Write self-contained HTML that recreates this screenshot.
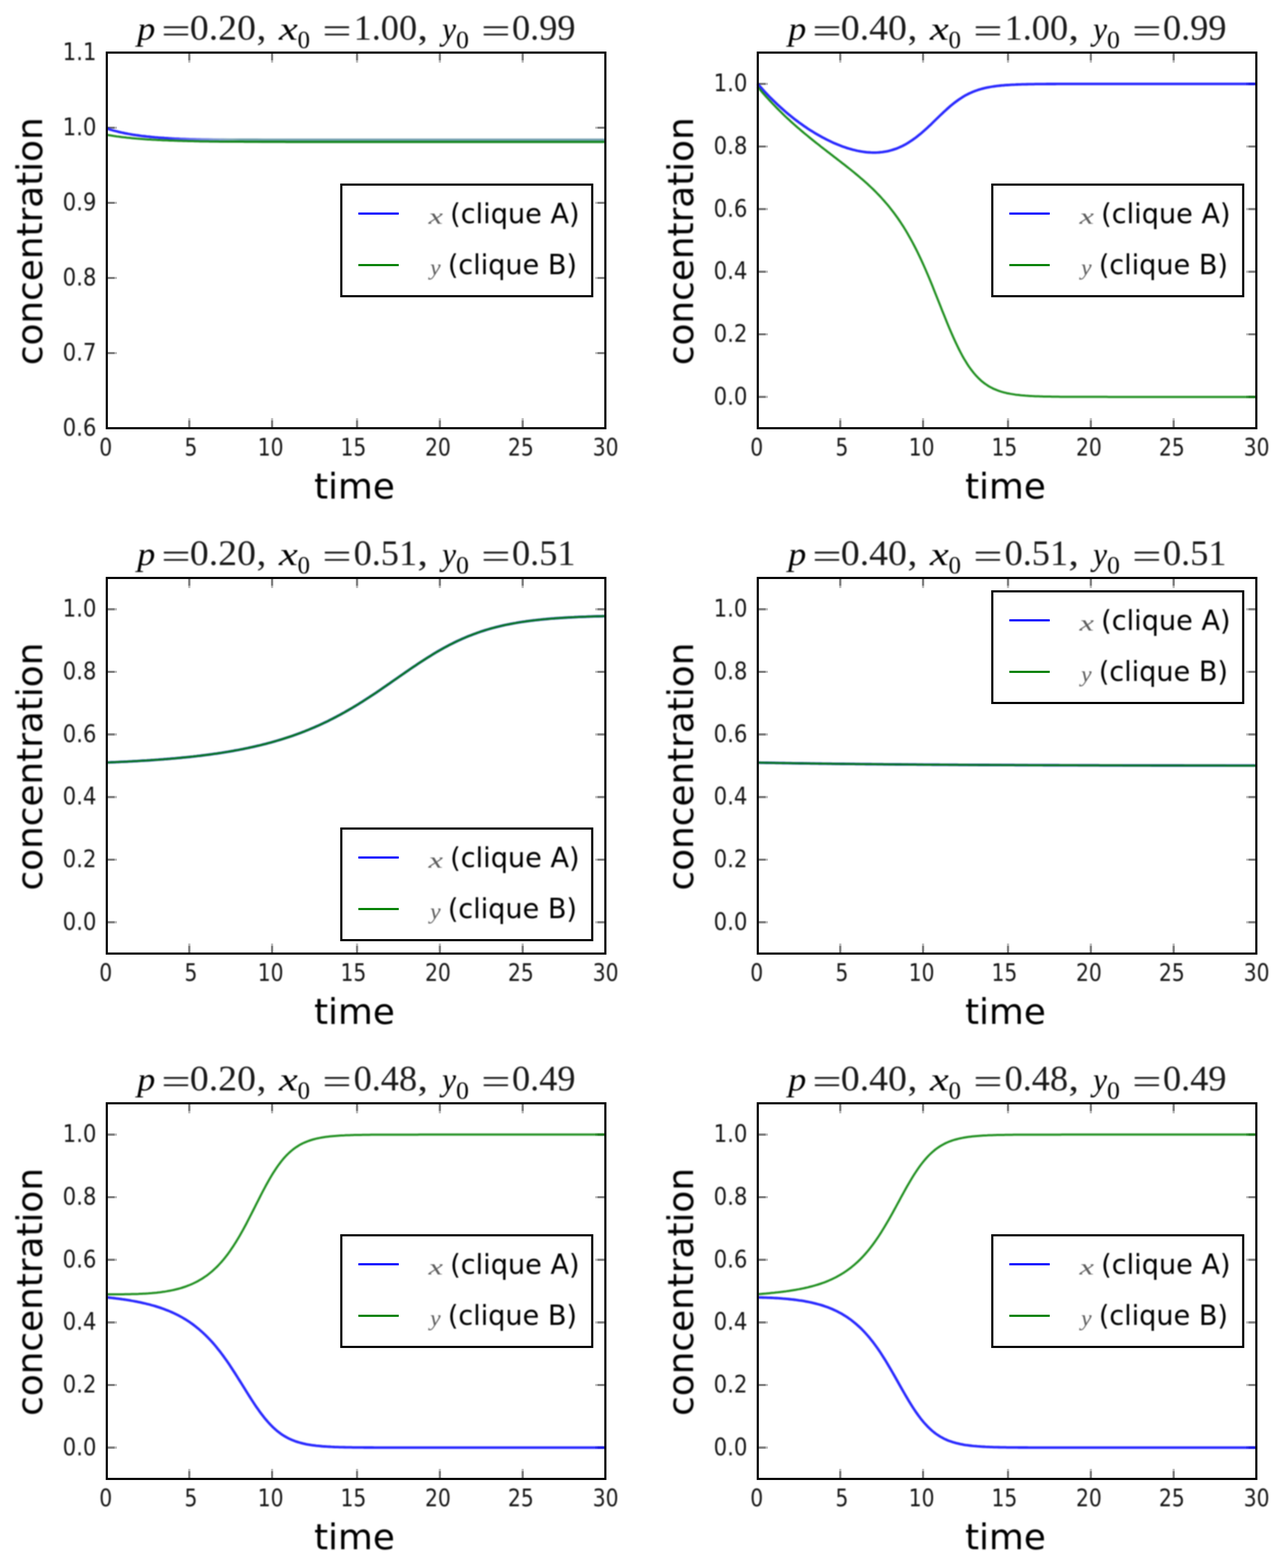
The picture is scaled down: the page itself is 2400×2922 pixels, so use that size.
<!DOCTYPE html>
<html lang="en">
<head>
<meta charset="utf-8">
<title>Clique concentration dynamics</title>
<style>
html,body{margin:0;padding:0;background:#fff;}
body{width:2400px;height:2922px;overflow:hidden;}
svg{display:block;}
text{fill:#000;}
.tk{fill:#161616;}
.tk{font-family:"DejaVu Sans", "Liberation Sans", sans-serif;font-size:44px;}
.lg{font-family:"DejaVu Sans", "Liberation Sans", sans-serif;font-size:51px;}
.lb{font-family:"DejaVu Sans", "Liberation Sans", sans-serif;font-size:66.7px;}
.tt{font-family:"Liberation Serif", "DejaVu Serif", serif;font-size:66.7px;fill:#1a1a1a;}
.ts{font-family:"Liberation Serif", "DejaVu Serif", serif;font-size:47px;}
.ti{font-family:"Liberation Serif", "DejaVu Serif", serif;font-size:61.5px;}
.lm{font-family:"Liberation Serif", "DejaVu Serif", serif;font-size:40px;fill:#5c5c5c;}
.mi{font-style:italic;}
.sp{fill:none;stroke:#000;stroke-width:4;}
.tm{stroke:#808080;stroke-width:4.2;fill:none;}
.tn{stroke:#bcbcbc;stroke-width:4.2;fill:none;}
.cx{fill:none;stroke:#0000ff;stroke-width:4.8;stroke-opacity:0.84;stroke-linejoin:round;}
.cy{fill:none;stroke:#008000;stroke-width:4.0;stroke-opacity:0.88;stroke-linejoin:round;}
.lbx{fill:#fff;stroke:#000;stroke-width:4;}
</style>
</head>
<body>
<svg width="2400" height="2922" viewBox="0 0 2400 2922">
<defs><filter id="soft" filterUnits="userSpaceOnUse" x="0" y="0" width="2400" height="2922" color-interpolation-filters="sRGB"><feGaussianBlur stdDeviation="1.1"/></filter></defs>
<rect x="0" y="0" width="2400" height="2922" fill="#ffffff"/>
<defs><linearGradient id="gb" gradientUnits="userSpaceOnUse" x1="310.5" y1="0" x2="434.3" y2="0"><stop offset="0" stop-color="#0000ff" stop-opacity="0.84"/><stop offset="1" stop-color="#0000ff" stop-opacity="0"/></linearGradient><linearGradient id="gm" gradientUnits="userSpaceOnUse" x1="322.9" y1="0" x2="446.7" y2="0"><stop offset="0" stop-color="#74a0b0" stop-opacity="0"/><stop offset="1" stop-color="#74a0b0" stop-opacity="1"/></linearGradient></defs>
<g>
<path class="tm" d="M352.7 798.0V783.2M352.7 98.0V112.8M507.0 798.0V783.2M507.0 98.0V112.8M665.3 798.0V783.2M665.3 98.0V112.8M819.6 798.0V783.2M819.6 98.0V112.8M973.9 798.0V783.2M973.9 98.0V112.8M199.0 658.0H213.8M1128.0 658.0H1113.2M199.0 518.0H213.8M1128.0 518.0H1113.2M199.0 378.0H213.8M1128.0 378.0H1113.2M199.0 238.0H213.8M1128.0 238.0H1113.2"/>
<path class="tn" d="M352.7 783.2V779.2M352.7 112.8V116.8M507.0 783.2V779.2M507.0 112.8V116.8M665.3 783.2V779.2M665.3 112.8V116.8M819.6 783.2V779.2M819.6 112.8V116.8M973.9 783.2V779.2M973.9 112.8V116.8M213.8 658.0H217.8M1113.2 658.0H1109.2M213.8 518.0H217.8M1113.2 518.0H1109.2M213.8 378.0H217.8M1113.2 378.0H1109.2M213.8 238.0H217.8M1113.2 238.0H1109.2"/>
<path class="tm" d="M1565.7 798.0V783.2M1565.7 98.0V112.8M1720.0 798.0V783.2M1720.0 98.0V112.8M1878.3 798.0V783.2M1878.3 98.0V112.8M2032.6 798.0V783.2M2032.6 98.0V112.8M2186.9 798.0V783.2M2186.9 98.0V112.8M1412.0 739.7H1426.8M2341.0 739.7H2326.2M1412.0 623.0H1426.8M2341.0 623.0H2326.2M1412.0 506.3H1426.8M2341.0 506.3H2326.2M1412.0 389.7H1426.8M2341.0 389.7H2326.2M1412.0 273.0H1426.8M2341.0 273.0H2326.2M1412.0 156.3H1426.8M2341.0 156.3H2326.2"/>
<path class="tn" d="M1565.7 783.2V779.2M1565.7 112.8V116.8M1720.0 783.2V779.2M1720.0 112.8V116.8M1878.3 783.2V779.2M1878.3 112.8V116.8M2032.6 783.2V779.2M2032.6 112.8V116.8M2186.9 783.2V779.2M2186.9 112.8V116.8M1426.8 739.7H1430.8M2326.2 739.7H2322.2M1426.8 623.0H1430.8M2326.2 623.0H2322.2M1426.8 506.3H1430.8M2326.2 506.3H2322.2M1426.8 389.7H1430.8M2326.2 389.7H2322.2M1426.8 273.0H1430.8M2326.2 273.0H2322.2M1426.8 156.3H1430.8M2326.2 156.3H2322.2"/>
<path class="tm" d="M352.7 1777.0V1762.2M352.7 1077.0V1091.8M507.0 1777.0V1762.2M507.0 1077.0V1091.8M665.3 1777.0V1762.2M665.3 1077.0V1091.8M819.6 1777.0V1762.2M819.6 1077.0V1091.8M973.9 1777.0V1762.2M973.9 1077.0V1091.8M199.0 1718.7H213.8M1128.0 1718.7H1113.2M199.0 1602.0H213.8M1128.0 1602.0H1113.2M199.0 1485.3H213.8M1128.0 1485.3H1113.2M199.0 1368.7H213.8M1128.0 1368.7H1113.2M199.0 1252.0H213.8M1128.0 1252.0H1113.2M199.0 1135.3H213.8M1128.0 1135.3H1113.2"/>
<path class="tn" d="M352.7 1762.2V1758.2M352.7 1091.8V1095.8M507.0 1762.2V1758.2M507.0 1091.8V1095.8M665.3 1762.2V1758.2M665.3 1091.8V1095.8M819.6 1762.2V1758.2M819.6 1091.8V1095.8M973.9 1762.2V1758.2M973.9 1091.8V1095.8M213.8 1718.7H217.8M1113.2 1718.7H1109.2M213.8 1602.0H217.8M1113.2 1602.0H1109.2M213.8 1485.3H217.8M1113.2 1485.3H1109.2M213.8 1368.7H217.8M1113.2 1368.7H1109.2M213.8 1252.0H217.8M1113.2 1252.0H1109.2M213.8 1135.3H217.8M1113.2 1135.3H1109.2"/>
<path class="tm" d="M1565.7 1777.0V1762.2M1565.7 1077.0V1091.8M1720.0 1777.0V1762.2M1720.0 1077.0V1091.8M1878.3 1777.0V1762.2M1878.3 1077.0V1091.8M2032.6 1777.0V1762.2M2032.6 1077.0V1091.8M2186.9 1777.0V1762.2M2186.9 1077.0V1091.8M1412.0 1718.7H1426.8M2341.0 1718.7H2326.2M1412.0 1602.0H1426.8M2341.0 1602.0H2326.2M1412.0 1485.3H1426.8M2341.0 1485.3H2326.2M1412.0 1368.7H1426.8M2341.0 1368.7H2326.2M1412.0 1252.0H1426.8M2341.0 1252.0H2326.2M1412.0 1135.3H1426.8M2341.0 1135.3H2326.2"/>
<path class="tn" d="M1565.7 1762.2V1758.2M1565.7 1091.8V1095.8M1720.0 1762.2V1758.2M1720.0 1091.8V1095.8M1878.3 1762.2V1758.2M1878.3 1091.8V1095.8M2032.6 1762.2V1758.2M2032.6 1091.8V1095.8M2186.9 1762.2V1758.2M2186.9 1091.8V1095.8M1426.8 1718.7H1430.8M2326.2 1718.7H2322.2M1426.8 1602.0H1430.8M2326.2 1602.0H2322.2M1426.8 1485.3H1430.8M2326.2 1485.3H2322.2M1426.8 1368.7H1430.8M2326.2 1368.7H2322.2M1426.8 1252.0H1430.8M2326.2 1252.0H2322.2M1426.8 1135.3H1430.8M2326.2 1135.3H2322.2"/>
<path class="tm" d="M352.7 2756.0V2741.2M352.7 2056.0V2070.8M507.0 2756.0V2741.2M507.0 2056.0V2070.8M665.3 2756.0V2741.2M665.3 2056.0V2070.8M819.6 2756.0V2741.2M819.6 2056.0V2070.8M973.9 2756.0V2741.2M973.9 2056.0V2070.8M199.0 2697.7H213.8M1128.0 2697.7H1113.2M199.0 2581.0H213.8M1128.0 2581.0H1113.2M199.0 2464.3H213.8M1128.0 2464.3H1113.2M199.0 2347.7H213.8M1128.0 2347.7H1113.2M199.0 2231.0H213.8M1128.0 2231.0H1113.2M199.0 2114.3H213.8M1128.0 2114.3H1113.2"/>
<path class="tn" d="M352.7 2741.2V2737.2M352.7 2070.8V2074.8M507.0 2741.2V2737.2M507.0 2070.8V2074.8M665.3 2741.2V2737.2M665.3 2070.8V2074.8M819.6 2741.2V2737.2M819.6 2070.8V2074.8M973.9 2741.2V2737.2M973.9 2070.8V2074.8M213.8 2697.7H217.8M1113.2 2697.7H1109.2M213.8 2581.0H217.8M1113.2 2581.0H1109.2M213.8 2464.3H217.8M1113.2 2464.3H1109.2M213.8 2347.7H217.8M1113.2 2347.7H1109.2M213.8 2231.0H217.8M1113.2 2231.0H1109.2M213.8 2114.3H217.8M1113.2 2114.3H1109.2"/>
<path class="tm" d="M1565.7 2756.0V2741.2M1565.7 2056.0V2070.8M1720.0 2756.0V2741.2M1720.0 2056.0V2070.8M1878.3 2756.0V2741.2M1878.3 2056.0V2070.8M2032.6 2756.0V2741.2M2032.6 2056.0V2070.8M2186.9 2756.0V2741.2M2186.9 2056.0V2070.8M1412.0 2697.7H1426.8M2341.0 2697.7H2326.2M1412.0 2581.0H1426.8M2341.0 2581.0H2326.2M1412.0 2464.3H1426.8M2341.0 2464.3H2326.2M1412.0 2347.7H1426.8M2341.0 2347.7H2326.2M1412.0 2231.0H1426.8M2341.0 2231.0H2326.2M1412.0 2114.3H1426.8M2341.0 2114.3H2326.2"/>
<path class="tn" d="M1565.7 2741.2V2737.2M1565.7 2070.8V2074.8M1720.0 2741.2V2737.2M1720.0 2070.8V2074.8M1878.3 2741.2V2737.2M1878.3 2070.8V2074.8M2032.6 2741.2V2737.2M2032.6 2070.8V2074.8M2186.9 2741.2V2737.2M2186.9 2070.8V2074.8M1426.8 2697.7H1430.8M2326.2 2697.7H2322.2M1426.8 2581.0H1430.8M2326.2 2581.0H2322.2M1426.8 2464.3H1430.8M2326.2 2464.3H2322.2M1426.8 2347.7H1430.8M2326.2 2347.7H2322.2M1426.8 2231.0H1430.8M2326.2 2231.0H2322.2M1426.8 2114.3H1430.8M2326.2 2114.3H2322.2"/>
</g>
<g filter="url(#soft)">
<polyline points="291.9,259.1 304.3,259.6 316.7,260.1 329.1,260.4 341.4,260.7 353.8,261.0 366.2,261.2 378.6,261.4 391.0,261.6 403.4,261.7 415.8,261.8 428.2,261.9 440.5,262.0 452.9,262.0 465.3,262.1 477.7,262.1 490.1,262.2 502.5,262.2 514.9,262.2 527.2,262.2 539.6,262.3 552.0,262.3 564.4,262.3 576.8,262.3 589.2,262.3 601.6,262.3 614.0,262.3 626.3,262.3 638.7,262.3 651.1,262.3 663.5,262.3 675.9,262.3 688.3,262.3 700.7,262.3 713.0,262.3 725.4,262.3 737.8,262.3 750.2,262.3 762.6,262.3 775.0,262.3 787.4,262.3 799.8,262.3 812.1,262.3 824.5,262.3 836.9,262.3 849.3,262.3 861.7,262.3 874.1,262.3 886.5,262.3 898.8,262.3 911.2,262.3 923.6,262.3 936.0,262.3 948.4,262.3 960.8,262.3 973.2,262.3 985.6,262.3 997.9,262.3 1010.3,262.3 1022.7,262.3 1035.1,262.3 1047.5,262.3 1059.9,262.3 1072.3,262.3 1084.6,262.3 1097.0,262.3 1109.4,262.3 1121.8,262.3 1128.0,262.3" fill="none" stroke="url(#gm)" stroke-width="8"/>
<polyline class="cx" style="stroke:url(#gb);stroke-opacity:1" points="199.0,239.4 202.1,240.4 205.2,241.4 208.3,242.3 211.4,243.2 214.5,244.0 217.6,244.8 220.7,245.6 223.8,246.3 226.9,247.0 230.0,247.6 233.1,248.3 236.2,248.9 239.3,249.5 242.4,250.0 245.4,250.6 248.5,251.1 251.6,251.5 254.7,252.0 257.8,252.4 260.9,252.9 264.0,253.3 267.1,253.6 270.2,254.0 273.3,254.4 276.4,254.7 279.5,255.0 282.6,255.3 285.7,255.6 288.8,255.9 291.9,256.1 295.0,256.4 298.1,256.6 301.2,256.8 304.3,257.0 307.4,257.3 310.5,257.4 313.6,257.6 316.7,257.8 319.8,258.0 322.9,258.1 326.0,258.3 329.1,258.4 332.2,258.5 335.3,258.7 338.4,258.8 341.4,258.9 344.5,259.0 347.6,259.1 350.7,259.2 353.8,259.3 356.9,259.4 360.0,259.4 363.1,259.5 366.2,259.6 369.3,259.7 372.4,259.7 375.5,259.8 378.6,259.8 381.7,259.9 384.8,259.9 387.9,260.0 391.0,260.1 394.1,260.2 397.2,260.3 400.3,260.3 403.4,260.4 406.5,260.5 409.6,260.6 412.7,260.6 415.8,260.7 418.9,260.8 422.0,260.8 425.1,260.9 428.2,260.9 431.2,261.0 434.3,261.0 437.4,261.1 440.5,261.1 443.6,261.2"/>
<polyline class="cy" points="199.0,251.2 202.1,251.8 205.2,252.3 208.3,252.8 211.4,253.3 214.5,253.7 217.6,254.2 220.7,254.6 223.8,255.0 226.9,255.4 230.0,255.8 233.1,256.1 236.2,256.5 239.3,256.8 242.4,257.1 245.4,257.4 248.5,257.7 251.6,258.0 254.7,258.3 257.8,258.5 260.9,258.8 264.0,259.0 267.1,259.2 270.2,259.5 273.3,259.7 276.4,259.9 279.5,260.1 282.6,260.3 285.7,260.4 288.8,260.6 291.9,260.8 295.0,260.9 298.1,261.1 301.2,261.2 304.3,261.4 307.4,261.5 310.5,261.6 313.6,261.7 316.7,261.9 319.8,262.0 322.9,262.1 326.0,262.2 329.1,262.3 332.2,262.4 335.3,262.5 338.4,262.6 341.4,262.7 344.5,262.7 347.6,262.8 350.7,262.9 353.8,263.0 356.9,263.1 360.0,263.1 363.1,263.2 366.2,263.3 369.3,263.3 372.4,263.4 375.5,263.4 378.6,263.5 381.7,263.5 384.8,263.6 387.9,263.6 391.0,263.7 394.1,263.7 397.2,263.7 400.3,263.8 403.4,263.8 406.5,263.8 409.6,263.9 412.7,263.9 415.8,263.9 418.9,263.9 422.0,264.0 425.1,264.0 428.2,264.0 431.2,264.0 434.3,264.0 437.4,264.1 440.5,264.1 443.6,264.1 446.7,264.1 449.8,264.1 452.9,264.1 456.0,264.2 459.1,264.2 462.2,264.2 465.3,264.2 468.4,264.2 471.5,264.2 474.6,264.2 477.7,264.2 480.8,264.2 483.9,264.3 487.0,264.3 490.1,264.3 493.2,264.3 496.3,264.3 499.4,264.3 502.5,264.3 505.6,264.3 508.7,264.3 511.8,264.3 514.9,264.3 518.0,264.3 521.1,264.3 524.1,264.3 527.2,264.3 530.3,264.3 533.4,264.4 536.5,264.4 539.6,264.4 542.7,264.4 545.8,264.4 548.9,264.4 552.0,264.4 555.1,264.4 558.2,264.4 561.3,264.4 564.4,264.4 567.5,264.4 570.6,264.4 573.7,264.4 576.8,264.4 579.9,264.4 583.0,264.4 586.1,264.4 589.2,264.4 592.3,264.4 595.4,264.4 598.5,264.4 601.6,264.4 604.7,264.4 607.8,264.4 610.9,264.4 614.0,264.4 617.0,264.4 620.1,264.4 623.2,264.4 626.3,264.4 629.4,264.4 632.5,264.4 635.6,264.4 638.7,264.4 641.8,264.4 644.9,264.4 648.0,264.4 651.1,264.4 654.2,264.4 657.3,264.4 660.4,264.4 663.5,264.4 666.6,264.4 669.7,264.4 672.8,264.4 675.9,264.4 679.0,264.4 682.1,264.4 685.2,264.4 688.3,264.4 691.4,264.4 694.5,264.4 697.6,264.4 700.7,264.4 703.8,264.4 706.9,264.4 710.0,264.4 713.0,264.4 716.1,264.4 719.2,264.4 722.3,264.4 725.4,264.4 728.5,264.4 731.6,264.4 734.7,264.4 737.8,264.4 740.9,264.4 744.0,264.4 747.1,264.4 750.2,264.4 753.3,264.4 756.4,264.4 759.5,264.4 762.6,264.4 765.7,264.4 768.8,264.4 771.9,264.4 775.0,264.4 778.1,264.4 781.2,264.4 784.3,264.4 787.4,264.4 790.5,264.4 793.6,264.4 796.7,264.4 799.8,264.4 802.9,264.4 805.9,264.4 809.0,264.4 812.1,264.4 815.2,264.4 818.3,264.4 821.4,264.4 824.5,264.4 827.6,264.4 830.7,264.4 833.8,264.4 836.9,264.4 840.0,264.4 843.1,264.4 846.2,264.4 849.3,264.4 852.4,264.4 855.5,264.4 858.6,264.4 861.7,264.4 864.8,264.4 867.9,264.4 871.0,264.4 874.1,264.4 877.2,264.4 880.3,264.4 883.4,264.4 886.5,264.4 889.6,264.4 892.7,264.4 895.8,264.4 898.8,264.4 901.9,264.4 905.0,264.4 908.1,264.4 911.2,264.4 914.3,264.4 917.4,264.4 920.5,264.4 923.6,264.4 926.7,264.4 929.8,264.4 932.9,264.4 936.0,264.4 939.1,264.4 942.2,264.4 945.3,264.4 948.4,264.4 951.5,264.4 954.6,264.4 957.7,264.4 960.8,264.4 963.9,264.4 967.0,264.4 970.1,264.4 973.2,264.4 976.3,264.4 979.4,264.4 982.5,264.4 985.6,264.4 988.6,264.4 991.7,264.4 994.8,264.4 997.9,264.4 1001.0,264.4 1004.1,264.4 1007.2,264.4 1010.3,264.4 1013.4,264.4 1016.5,264.4 1019.6,264.4 1022.7,264.4 1025.8,264.4 1028.9,264.4 1032.0,264.4 1035.1,264.4 1038.2,264.4 1041.3,264.4 1044.4,264.4 1047.5,264.4 1050.6,264.4 1053.7,264.4 1056.8,264.4 1059.9,264.4 1063.0,264.4 1066.1,264.4 1069.2,264.4 1072.3,264.4 1075.4,264.4 1078.5,264.4 1081.5,264.4 1084.6,264.4 1087.7,264.4 1090.8,264.4 1093.9,264.4 1097.0,264.4 1100.1,264.4 1103.2,264.4 1106.3,264.4 1109.4,264.4 1112.5,264.4 1115.6,264.4 1118.7,264.4 1121.8,264.4 1124.9,264.4 1128.0,264.4"/>
<polyline class="cx" points="1412.0,156.3 1415.1,159.9 1418.2,163.4 1421.3,166.9 1424.4,170.3 1427.5,173.6 1430.6,176.9 1433.7,180.1 1436.8,183.2 1439.9,186.3 1443.0,189.3 1446.1,192.3 1449.2,195.2 1452.3,198.1 1455.4,200.9 1458.5,203.6 1461.5,206.3 1464.6,209.0 1467.7,211.6 1470.8,214.2 1473.9,216.7 1477.0,219.2 1480.1,221.6 1483.2,224.0 1486.3,226.3 1489.4,228.6 1492.5,230.8 1495.6,233.0 1498.7,235.2 1501.8,237.3 1504.9,239.4 1508.0,241.4 1511.1,243.4 1514.2,245.3 1517.3,247.2 1520.4,249.1 1523.5,250.9 1526.6,252.7 1529.7,254.4 1532.8,256.1 1535.9,257.7 1539.0,259.3 1542.1,260.9 1545.2,262.4 1548.3,263.9 1551.3,265.3 1554.4,266.7 1557.5,268.0 1560.6,269.3 1563.7,270.5 1566.8,271.7 1569.9,272.9 1573.0,274.0 1576.1,275.1 1579.2,276.1 1582.3,277.0 1585.4,277.9 1588.5,278.8 1591.6,279.5 1594.7,280.3 1597.8,281.0 1600.9,281.6 1604.0,282.2 1607.1,282.7 1610.2,283.1 1613.3,283.5 1616.4,283.8 1619.5,284.0 1622.6,284.2 1625.7,284.3 1628.8,284.4 1631.9,284.3 1635.0,284.2 1638.1,284.0 1641.2,283.7 1644.2,283.4 1647.3,282.9 1650.4,282.4 1653.5,281.8 1656.6,281.1 1659.7,280.3 1662.8,279.4 1665.9,278.4 1669.0,277.4 1672.1,276.2 1675.2,274.9 1678.3,273.5 1681.4,272.1 1684.5,270.5 1687.6,268.8 1690.7,267.0 1693.8,265.1 1696.9,263.1 1700.0,261.0 1703.1,258.8 1706.2,256.6 1709.3,254.2 1712.4,251.7 1715.5,249.2 1718.6,246.5 1721.7,243.8 1724.8,241.0 1727.9,238.2 1731.0,235.3 1734.1,232.4 1737.2,229.4 1740.2,226.4 1743.3,223.4 1746.4,220.4 1749.5,217.4 1752.6,214.4 1755.7,211.5 1758.8,208.5 1761.9,205.7 1765.0,202.9 1768.1,200.1 1771.2,197.4 1774.3,194.9 1777.4,192.4 1780.5,190.0 1783.6,187.7 1786.7,185.5 1789.8,183.4 1792.9,181.4 1796.0,179.5 1799.1,177.7 1802.2,176.1 1805.3,174.5 1808.4,173.1 1811.5,171.7 1814.6,170.4 1817.7,169.2 1820.8,168.2 1823.9,167.1 1827.0,166.2 1830.0,165.4 1833.1,164.6 1836.2,163.8 1839.3,163.2 1842.4,162.6 1845.5,162.0 1848.6,161.5 1851.7,161.0 1854.8,160.6 1857.9,160.2 1861.0,159.8 1864.1,159.5 1867.2,159.2 1870.3,159.0 1873.4,158.7 1876.5,158.5 1879.6,158.3 1882.7,158.1 1885.8,157.9 1888.9,157.8 1892.0,157.7 1895.1,157.5 1898.2,157.4 1901.3,157.3 1904.4,157.2 1907.5,157.1 1910.6,157.1 1913.7,157.0 1916.8,156.9 1919.9,156.9 1923.0,156.8 1926.0,156.8 1929.1,156.7 1932.2,156.7 1935.3,156.7 1938.4,156.6 1941.5,156.6 1944.6,156.6 1947.7,156.6 1950.8,156.5 1953.9,156.5 1957.0,156.5 1960.1,156.5 1963.2,156.5 1966.3,156.5 1969.4,156.4 1972.5,156.4 1975.6,156.4 1978.7,156.4 1981.8,156.4 1984.9,156.4 1988.0,156.4 1991.1,156.4 1994.2,156.4 1997.3,156.4 2000.4,156.4 2003.5,156.4 2006.6,156.4 2009.7,156.4 2012.8,156.4 2015.8,156.4 2018.9,156.4 2022.0,156.4 2025.1,156.4 2028.2,156.3 2031.3,156.3 2034.4,156.3 2037.5,156.3 2040.6,156.3 2043.7,156.3 2046.8,156.3 2049.9,156.3 2053.0,156.3 2056.1,156.3 2059.2,156.3 2062.3,156.3 2065.4,156.3 2068.5,156.3 2071.6,156.3 2074.7,156.3 2077.8,156.3 2080.9,156.3 2084.0,156.3 2087.1,156.3 2090.2,156.3 2093.3,156.3 2096.4,156.3 2099.5,156.3 2102.6,156.3 2105.7,156.3 2108.8,156.3 2111.8,156.3 2114.9,156.3 2118.0,156.3 2121.1,156.3 2124.2,156.3 2127.3,156.3 2130.4,156.3 2133.5,156.3 2136.6,156.3 2139.7,156.3 2142.8,156.3 2145.9,156.3 2149.0,156.3 2152.1,156.3 2155.2,156.3 2158.3,156.3 2161.4,156.3 2164.5,156.3 2167.6,156.3 2170.7,156.3 2173.8,156.3 2176.9,156.3 2180.0,156.3 2183.1,156.3 2186.2,156.3 2189.3,156.3 2192.4,156.3 2195.5,156.3 2198.6,156.3 2201.7,156.3 2204.7,156.3 2207.8,156.3 2210.9,156.3 2214.0,156.3 2217.1,156.3 2220.2,156.3 2223.3,156.3 2226.4,156.3 2229.5,156.3 2232.6,156.3 2235.7,156.3 2238.8,156.3 2241.9,156.3 2245.0,156.3 2248.1,156.3 2251.2,156.3 2254.3,156.3 2257.4,156.3 2260.5,156.3 2263.6,156.3 2266.7,156.3 2269.8,156.3 2272.9,156.3 2276.0,156.3 2279.1,156.3 2282.2,156.3 2285.3,156.3 2288.4,156.3 2291.5,156.3 2294.6,156.3 2297.6,156.3 2300.7,156.3 2303.8,156.3 2306.9,156.3 2310.0,156.3 2313.1,156.3 2316.2,156.3 2319.3,156.3 2322.4,156.3 2325.5,156.3 2328.6,156.3 2331.7,156.3 2334.8,156.3 2337.9,156.3 2341.0,156.3"/>
<polyline class="cy" points="1412.0,162.2 1415.1,165.9 1418.2,169.5 1421.3,173.1 1424.4,176.6 1427.5,180.1 1430.6,183.5 1433.7,186.9 1436.8,190.2 1439.9,193.5 1443.0,196.7 1446.1,199.9 1449.2,203.0 1452.3,206.1 1455.4,209.2 1458.5,212.2 1461.5,215.2 1464.6,218.1 1467.7,221.0 1470.8,223.8 1473.9,226.7 1477.0,229.5 1480.1,232.2 1483.2,235.0 1486.3,237.7 1489.4,240.3 1492.5,243.0 1495.6,245.6 1498.7,248.2 1501.8,250.8 1504.9,253.3 1508.0,255.9 1511.1,258.4 1514.2,260.9 1517.3,263.4 1520.4,265.8 1523.5,268.3 1526.6,270.7 1529.7,273.2 1532.8,275.6 1535.9,278.0 1539.0,280.4 1542.1,282.8 1545.2,285.2 1548.3,287.6 1551.3,289.9 1554.4,292.3 1557.5,294.7 1560.6,297.1 1563.7,299.5 1566.8,301.9 1569.9,304.3 1573.0,306.7 1576.1,309.1 1579.2,311.6 1582.3,314.0 1585.4,316.5 1588.5,319.0 1591.6,321.5 1594.7,324.1 1597.8,326.6 1600.9,329.2 1604.0,331.9 1607.1,334.6 1610.2,337.3 1613.3,340.0 1616.4,342.8 1619.5,345.7 1622.6,348.6 1625.7,351.5 1628.8,354.5 1631.9,357.6 1635.0,360.8 1638.1,364.0 1641.2,367.3 1644.2,370.7 1647.3,374.1 1650.4,377.7 1653.5,381.3 1656.6,385.1 1659.7,388.9 1662.8,392.9 1665.9,397.0 1669.0,401.2 1672.1,405.5 1675.2,410.0 1678.3,414.6 1681.4,419.4 1684.5,424.2 1687.6,429.3 1690.7,434.5 1693.8,439.9 1696.9,445.4 1700.0,451.1 1703.1,457.0 1706.2,463.0 1709.3,469.2 1712.4,475.6 1715.5,482.2 1718.6,488.9 1721.7,495.8 1724.8,502.8 1727.9,510.0 1731.0,517.3 1734.1,524.8 1737.2,532.3 1740.2,540.0 1743.3,547.7 1746.4,555.5 1749.5,563.3 1752.6,571.1 1755.7,578.9 1758.8,586.6 1761.9,594.3 1765.0,601.9 1768.1,609.4 1771.2,616.7 1774.3,623.9 1777.4,630.9 1780.5,637.7 1783.6,644.2 1786.7,650.5 1789.8,656.6 1792.9,662.4 1796.0,667.9 1799.1,673.1 1802.2,678.1 1805.3,682.8 1808.4,687.2 1811.5,691.3 1814.6,695.2 1817.7,698.8 1820.8,702.1 1823.9,705.3 1827.0,708.2 1830.0,710.9 1833.1,713.3 1836.2,715.6 1839.3,717.7 1842.4,719.7 1845.5,721.4 1848.6,723.1 1851.7,724.6 1854.8,725.9 1857.9,727.2 1861.0,728.3 1864.1,729.4 1867.2,730.3 1870.3,731.2 1873.4,731.9 1876.5,732.7 1879.6,733.3 1882.7,733.9 1885.8,734.4 1888.9,734.9 1892.0,735.4 1895.1,735.8 1898.2,736.1 1901.3,736.5 1904.4,736.8 1907.5,737.0 1910.6,737.3 1913.7,737.5 1916.8,737.7 1919.9,737.9 1923.0,738.1 1926.0,738.2 1929.1,738.4 1932.2,738.5 1935.3,738.6 1938.4,738.7 1941.5,738.8 1944.6,738.9 1947.7,738.9 1950.8,739.0 1953.9,739.1 1957.0,739.1 1960.1,739.2 1963.2,739.2 1966.3,739.3 1969.4,739.3 1972.5,739.3 1975.6,739.4 1978.7,739.4 1981.8,739.4 1984.9,739.4 1988.0,739.5 1991.1,739.5 1994.2,739.5 1997.3,739.5 2000.4,739.5 2003.5,739.5 2006.6,739.6 2009.7,739.6 2012.8,739.6 2015.8,739.6 2018.9,739.6 2022.0,739.6 2025.1,739.6 2028.2,739.6 2031.3,739.6 2034.4,739.6 2037.5,739.6 2040.6,739.6 2043.7,739.6 2046.8,739.6 2049.9,739.6 2053.0,739.6 2056.1,739.6 2059.2,739.6 2062.3,739.6 2065.4,739.7 2068.5,739.7 2071.6,739.7 2074.7,739.7 2077.8,739.7 2080.9,739.7 2084.0,739.7 2087.1,739.7 2090.2,739.7 2093.3,739.7 2096.4,739.7 2099.5,739.7 2102.6,739.7 2105.7,739.7 2108.8,739.7 2111.8,739.7 2114.9,739.7 2118.0,739.7 2121.1,739.7 2124.2,739.7 2127.3,739.7 2130.4,739.7 2133.5,739.7 2136.6,739.7 2139.7,739.7 2142.8,739.7 2145.9,739.7 2149.0,739.7 2152.1,739.7 2155.2,739.7 2158.3,739.7 2161.4,739.7 2164.5,739.7 2167.6,739.7 2170.7,739.7 2173.8,739.7 2176.9,739.7 2180.0,739.7 2183.1,739.7 2186.2,739.7 2189.3,739.7 2192.4,739.7 2195.5,739.7 2198.6,739.7 2201.7,739.7 2204.7,739.7 2207.8,739.7 2210.9,739.7 2214.0,739.7 2217.1,739.7 2220.2,739.7 2223.3,739.7 2226.4,739.7 2229.5,739.7 2232.6,739.7 2235.7,739.7 2238.8,739.7 2241.9,739.7 2245.0,739.7 2248.1,739.7 2251.2,739.7 2254.3,739.7 2257.4,739.7 2260.5,739.7 2263.6,739.7 2266.7,739.7 2269.8,739.7 2272.9,739.7 2276.0,739.7 2279.1,739.7 2282.2,739.7 2285.3,739.7 2288.4,739.7 2291.5,739.7 2294.6,739.7 2297.6,739.7 2300.7,739.7 2303.8,739.7 2306.9,739.7 2310.0,739.7 2313.1,739.7 2316.2,739.7 2319.3,739.7 2322.4,739.7 2325.5,739.7 2328.6,739.7 2331.7,739.7 2334.8,739.7 2337.9,739.7 2341.0,739.7"/>
<polyline class="cx" points="199.0,1420.9 202.1,1420.8 205.2,1420.7 208.3,1420.5 211.4,1420.4 214.5,1420.3 217.6,1420.1 220.7,1420.0 223.8,1419.8 226.9,1419.7 230.0,1419.6 233.1,1419.4 236.2,1419.3 239.3,1419.1 242.4,1418.9 245.4,1418.8 248.5,1418.6 251.6,1418.4 254.7,1418.3 257.8,1418.1 260.9,1417.9 264.0,1417.7 267.1,1417.5 270.2,1417.3 273.3,1417.2 276.4,1417.0 279.5,1416.8 282.6,1416.5 285.7,1416.3 288.8,1416.1 291.9,1415.9 295.0,1415.7 298.1,1415.4 301.2,1415.2 304.3,1415.0 307.4,1414.7 310.5,1414.5 313.6,1414.2 316.7,1414.0 319.8,1413.7 322.9,1413.4 326.0,1413.2 329.1,1412.9 332.2,1412.6 335.3,1412.3 338.4,1412.0 341.4,1411.7 344.5,1411.4 347.6,1411.1 350.7,1410.8 353.8,1410.5 356.9,1410.1 360.0,1409.8 363.1,1409.4 366.2,1409.1 369.3,1408.7 372.4,1408.4 375.5,1408.0 378.6,1407.6 381.7,1407.2 384.8,1406.8 387.9,1406.4 391.0,1406.0 394.1,1405.6 397.2,1405.1 400.3,1404.7 403.4,1404.3 406.5,1403.8 409.6,1403.3 412.7,1402.9 415.8,1402.4 418.9,1401.9 422.0,1401.4 425.1,1400.9 428.2,1400.3 431.2,1399.8 434.3,1399.3 437.4,1398.7 440.5,1398.1 443.6,1397.6 446.7,1397.0 449.8,1396.4 452.9,1395.8 456.0,1395.1 459.1,1394.5 462.2,1393.9 465.3,1393.2 468.4,1392.5 471.5,1391.8 474.6,1391.1 477.7,1390.4 480.8,1389.7 483.9,1389.0 487.0,1388.2 490.1,1387.4 493.2,1386.7 496.3,1385.9 499.4,1385.0 502.5,1384.2 505.6,1383.4 508.7,1382.5 511.8,1381.6 514.9,1380.7 518.0,1379.8 521.1,1378.9 524.1,1378.0 527.2,1377.0 530.3,1376.0 533.4,1375.0 536.5,1374.0 539.6,1373.0 542.7,1372.0 545.8,1370.9 548.9,1369.8 552.0,1368.7 555.1,1367.6 558.2,1366.4 561.3,1365.3 564.4,1364.1 567.5,1362.9 570.6,1361.6 573.7,1360.4 576.8,1359.1 579.9,1357.8 583.0,1356.5 586.1,1355.2 589.2,1353.8 592.3,1352.5 595.4,1351.1 598.5,1349.6 601.6,1348.2 604.7,1346.7 607.8,1345.3 610.9,1343.8 614.0,1342.2 617.0,1340.7 620.1,1339.1 623.2,1337.5 626.3,1335.9 629.4,1334.2 632.5,1332.6 635.6,1330.9 638.7,1329.2 641.8,1327.5 644.9,1325.7 648.0,1323.9 651.1,1322.1 654.2,1320.3 657.3,1318.5 660.4,1316.6 663.5,1314.8 666.6,1312.9 669.7,1310.9 672.8,1309.0 675.9,1307.1 679.0,1305.1 682.1,1303.1 685.2,1301.1 688.3,1299.1 691.4,1297.0 694.5,1295.0 697.6,1292.9 700.7,1290.9 703.8,1288.8 706.9,1286.7 710.0,1284.6 713.0,1282.4 716.1,1280.3 719.2,1278.2 722.3,1276.0 725.4,1273.9 728.5,1271.7 731.6,1269.6 734.7,1267.4 737.8,1265.3 740.9,1263.1 744.0,1260.9 747.1,1258.8 750.2,1256.6 753.3,1254.5 756.4,1252.3 759.5,1250.2 762.6,1248.1 765.7,1245.9 768.8,1243.8 771.9,1241.7 775.0,1239.7 778.1,1237.6 781.2,1235.5 784.3,1233.5 787.4,1231.5 790.5,1229.5 793.6,1227.5 796.7,1225.5 799.8,1223.6 802.9,1221.7 805.9,1219.8 809.0,1217.9 812.1,1216.0 815.2,1214.2 818.3,1212.4 821.4,1210.7 824.5,1208.9 827.6,1207.2 830.7,1205.5 833.8,1203.9 836.9,1202.2 840.0,1200.6 843.1,1199.1 846.2,1197.5 849.3,1196.0 852.4,1194.5 855.5,1193.1 858.6,1191.7 861.7,1190.3 864.8,1189.0 867.9,1187.6 871.0,1186.3 874.1,1185.1 877.2,1183.9 880.3,1182.7 883.4,1181.5 886.5,1180.4 889.6,1179.2 892.7,1178.2 895.8,1177.1 898.8,1176.1 901.9,1175.1 905.0,1174.1 908.1,1173.2 911.2,1172.3 914.3,1171.4 917.4,1170.5 920.5,1169.7 923.6,1168.9 926.7,1168.1 929.8,1167.4 932.9,1166.6 936.0,1165.9 939.1,1165.2 942.2,1164.5 945.3,1163.9 948.4,1163.3 951.5,1162.7 954.6,1162.1 957.7,1161.5 960.8,1161.0 963.9,1160.4 967.0,1159.9 970.1,1159.4 973.2,1158.9 976.3,1158.5 979.4,1158.0 982.5,1157.6 985.6,1157.2 988.6,1156.8 991.7,1156.4 994.8,1156.0 997.9,1155.7 1001.0,1155.3 1004.1,1155.0 1007.2,1154.7 1010.3,1154.3 1013.4,1154.0 1016.5,1153.8 1019.6,1153.5 1022.7,1153.2 1025.8,1152.9 1028.9,1152.7 1032.0,1152.5 1035.1,1152.2 1038.2,1152.0 1041.3,1151.8 1044.4,1151.6 1047.5,1151.4 1050.6,1151.2 1053.7,1151.0 1056.8,1150.8 1059.9,1150.6 1063.0,1150.5 1066.1,1150.3 1069.2,1150.2 1072.3,1150.0 1075.4,1149.9 1078.5,1149.7 1081.5,1149.6 1084.6,1149.5 1087.7,1149.4 1090.8,1149.3 1093.9,1149.1 1097.0,1149.0 1100.1,1148.9 1103.2,1148.8 1106.3,1148.7 1109.4,1148.6 1112.5,1148.5 1115.6,1148.5 1118.7,1148.4 1121.8,1148.3 1124.9,1148.2 1128.0,1148.2"/>
<polyline class="cy" points="199.0,1420.9 202.1,1420.8 205.2,1420.7 208.3,1420.5 211.4,1420.4 214.5,1420.3 217.6,1420.1 220.7,1420.0 223.8,1419.8 226.9,1419.7 230.0,1419.6 233.1,1419.4 236.2,1419.3 239.3,1419.1 242.4,1418.9 245.4,1418.8 248.5,1418.6 251.6,1418.4 254.7,1418.3 257.8,1418.1 260.9,1417.9 264.0,1417.7 267.1,1417.5 270.2,1417.3 273.3,1417.2 276.4,1417.0 279.5,1416.8 282.6,1416.5 285.7,1416.3 288.8,1416.1 291.9,1415.9 295.0,1415.7 298.1,1415.4 301.2,1415.2 304.3,1415.0 307.4,1414.7 310.5,1414.5 313.6,1414.2 316.7,1414.0 319.8,1413.7 322.9,1413.4 326.0,1413.2 329.1,1412.9 332.2,1412.6 335.3,1412.3 338.4,1412.0 341.4,1411.7 344.5,1411.4 347.6,1411.1 350.7,1410.8 353.8,1410.5 356.9,1410.1 360.0,1409.8 363.1,1409.4 366.2,1409.1 369.3,1408.7 372.4,1408.4 375.5,1408.0 378.6,1407.6 381.7,1407.2 384.8,1406.8 387.9,1406.4 391.0,1406.0 394.1,1405.6 397.2,1405.1 400.3,1404.7 403.4,1404.3 406.5,1403.8 409.6,1403.3 412.7,1402.9 415.8,1402.4 418.9,1401.9 422.0,1401.4 425.1,1400.9 428.2,1400.3 431.2,1399.8 434.3,1399.3 437.4,1398.7 440.5,1398.1 443.6,1397.6 446.7,1397.0 449.8,1396.4 452.9,1395.8 456.0,1395.1 459.1,1394.5 462.2,1393.9 465.3,1393.2 468.4,1392.5 471.5,1391.8 474.6,1391.1 477.7,1390.4 480.8,1389.7 483.9,1389.0 487.0,1388.2 490.1,1387.4 493.2,1386.7 496.3,1385.9 499.4,1385.0 502.5,1384.2 505.6,1383.4 508.7,1382.5 511.8,1381.6 514.9,1380.7 518.0,1379.8 521.1,1378.9 524.1,1378.0 527.2,1377.0 530.3,1376.0 533.4,1375.0 536.5,1374.0 539.6,1373.0 542.7,1372.0 545.8,1370.9 548.9,1369.8 552.0,1368.7 555.1,1367.6 558.2,1366.4 561.3,1365.3 564.4,1364.1 567.5,1362.9 570.6,1361.6 573.7,1360.4 576.8,1359.1 579.9,1357.8 583.0,1356.5 586.1,1355.2 589.2,1353.8 592.3,1352.5 595.4,1351.1 598.5,1349.6 601.6,1348.2 604.7,1346.7 607.8,1345.3 610.9,1343.8 614.0,1342.2 617.0,1340.7 620.1,1339.1 623.2,1337.5 626.3,1335.9 629.4,1334.2 632.5,1332.6 635.6,1330.9 638.7,1329.2 641.8,1327.5 644.9,1325.7 648.0,1323.9 651.1,1322.1 654.2,1320.3 657.3,1318.5 660.4,1316.6 663.5,1314.8 666.6,1312.9 669.7,1310.9 672.8,1309.0 675.9,1307.1 679.0,1305.1 682.1,1303.1 685.2,1301.1 688.3,1299.1 691.4,1297.0 694.5,1295.0 697.6,1292.9 700.7,1290.9 703.8,1288.8 706.9,1286.7 710.0,1284.6 713.0,1282.4 716.1,1280.3 719.2,1278.2 722.3,1276.0 725.4,1273.9 728.5,1271.7 731.6,1269.6 734.7,1267.4 737.8,1265.3 740.9,1263.1 744.0,1260.9 747.1,1258.8 750.2,1256.6 753.3,1254.5 756.4,1252.3 759.5,1250.2 762.6,1248.1 765.7,1245.9 768.8,1243.8 771.9,1241.7 775.0,1239.7 778.1,1237.6 781.2,1235.5 784.3,1233.5 787.4,1231.5 790.5,1229.5 793.6,1227.5 796.7,1225.5 799.8,1223.6 802.9,1221.7 805.9,1219.8 809.0,1217.9 812.1,1216.0 815.2,1214.2 818.3,1212.4 821.4,1210.7 824.5,1208.9 827.6,1207.2 830.7,1205.5 833.8,1203.9 836.9,1202.2 840.0,1200.6 843.1,1199.1 846.2,1197.5 849.3,1196.0 852.4,1194.5 855.5,1193.1 858.6,1191.7 861.7,1190.3 864.8,1189.0 867.9,1187.6 871.0,1186.3 874.1,1185.1 877.2,1183.9 880.3,1182.7 883.4,1181.5 886.5,1180.4 889.6,1179.2 892.7,1178.2 895.8,1177.1 898.8,1176.1 901.9,1175.1 905.0,1174.1 908.1,1173.2 911.2,1172.3 914.3,1171.4 917.4,1170.5 920.5,1169.7 923.6,1168.9 926.7,1168.1 929.8,1167.4 932.9,1166.6 936.0,1165.9 939.1,1165.2 942.2,1164.5 945.3,1163.9 948.4,1163.3 951.5,1162.7 954.6,1162.1 957.7,1161.5 960.8,1161.0 963.9,1160.4 967.0,1159.9 970.1,1159.4 973.2,1158.9 976.3,1158.5 979.4,1158.0 982.5,1157.6 985.6,1157.2 988.6,1156.8 991.7,1156.4 994.8,1156.0 997.9,1155.7 1001.0,1155.3 1004.1,1155.0 1007.2,1154.7 1010.3,1154.3 1013.4,1154.0 1016.5,1153.8 1019.6,1153.5 1022.7,1153.2 1025.8,1152.9 1028.9,1152.7 1032.0,1152.5 1035.1,1152.2 1038.2,1152.0 1041.3,1151.8 1044.4,1151.6 1047.5,1151.4 1050.6,1151.2 1053.7,1151.0 1056.8,1150.8 1059.9,1150.6 1063.0,1150.5 1066.1,1150.3 1069.2,1150.2 1072.3,1150.0 1075.4,1149.9 1078.5,1149.7 1081.5,1149.6 1084.6,1149.5 1087.7,1149.4 1090.8,1149.3 1093.9,1149.1 1097.0,1149.0 1100.1,1148.9 1103.2,1148.8 1106.3,1148.7 1109.4,1148.6 1112.5,1148.5 1115.6,1148.5 1118.7,1148.4 1121.8,1148.3 1124.9,1148.2 1128.0,1148.2"/>
<polyline class="cx" points="1412.0,1421.2 1415.1,1421.2 1418.2,1421.3 1421.3,1421.3 1424.4,1421.4 1427.5,1421.5 1430.6,1421.5 1433.7,1421.6 1436.8,1421.6 1439.9,1421.7 1443.0,1421.7 1446.1,1421.8 1449.2,1421.8 1452.3,1421.9 1455.4,1421.9 1458.5,1422.0 1461.5,1422.0 1464.6,1422.1 1467.7,1422.1 1470.8,1422.2 1473.9,1422.2 1477.0,1422.3 1480.1,1422.3 1483.2,1422.4 1486.3,1422.4 1489.4,1422.5 1492.5,1422.5 1495.6,1422.5 1498.7,1422.6 1501.8,1422.6 1504.9,1422.7 1508.0,1422.7 1511.1,1422.8 1514.2,1422.8 1517.3,1422.8 1520.4,1422.9 1523.5,1422.9 1526.6,1423.0 1529.7,1423.0 1532.8,1423.1 1535.9,1423.1 1539.0,1423.1 1542.1,1423.2 1545.2,1423.2 1548.3,1423.2 1551.3,1423.3 1554.4,1423.3 1557.5,1423.4 1560.6,1423.4 1563.7,1423.4 1566.8,1423.5 1569.9,1423.5 1573.0,1423.5 1576.1,1423.6 1579.2,1423.6 1582.3,1423.6 1585.4,1423.7 1588.5,1423.7 1591.6,1423.7 1594.7,1423.8 1597.8,1423.8 1600.9,1423.8 1604.0,1423.9 1607.1,1423.9 1610.2,1423.9 1613.3,1424.0 1616.4,1424.0 1619.5,1424.0 1622.6,1424.0 1625.7,1424.1 1628.8,1424.1 1631.9,1424.1 1635.0,1424.2 1638.1,1424.2 1641.2,1424.2 1644.2,1424.2 1647.3,1424.3 1650.4,1424.3 1653.5,1424.3 1656.6,1424.4 1659.7,1424.4 1662.8,1424.4 1665.9,1424.4 1669.0,1424.5 1672.1,1424.5 1675.2,1424.5 1678.3,1424.5 1681.4,1424.6 1684.5,1424.6 1687.6,1424.6 1690.7,1424.6 1693.8,1424.7 1696.9,1424.7 1700.0,1424.7 1703.1,1424.7 1706.2,1424.7 1709.3,1424.8 1712.4,1424.8 1715.5,1424.8 1718.6,1424.8 1721.7,1424.9 1724.8,1424.9 1727.9,1424.9 1731.0,1424.9 1734.1,1424.9 1737.2,1425.0 1740.2,1425.0 1743.3,1425.0 1746.4,1425.0 1749.5,1425.0 1752.6,1425.1 1755.7,1425.1 1758.8,1425.1 1761.9,1425.1 1765.0,1425.1 1768.1,1425.2 1771.2,1425.2 1774.3,1425.2 1777.4,1425.2 1780.5,1425.2 1783.6,1425.2 1786.7,1425.3 1789.8,1425.3 1792.9,1425.3 1796.0,1425.3 1799.1,1425.3 1802.2,1425.3 1805.3,1425.4 1808.4,1425.4 1811.5,1425.4 1814.6,1425.4 1817.7,1425.4 1820.8,1425.4 1823.9,1425.5 1827.0,1425.5 1830.0,1425.5 1833.1,1425.5 1836.2,1425.5 1839.3,1425.5 1842.4,1425.5 1845.5,1425.6 1848.6,1425.6 1851.7,1425.6 1854.8,1425.6 1857.9,1425.6 1861.0,1425.6 1864.1,1425.6 1867.2,1425.7 1870.3,1425.7 1873.4,1425.7 1876.5,1425.7 1879.6,1425.7 1882.7,1425.7 1885.8,1425.7 1888.9,1425.7 1892.0,1425.8 1895.1,1425.8 1898.2,1425.8 1901.3,1425.8 1904.4,1425.8 1907.5,1425.8 1910.6,1425.8 1913.7,1425.8 1916.8,1425.9 1919.9,1425.9 1923.0,1425.9 1926.0,1425.9 1929.1,1425.9 1932.2,1425.9 1935.3,1425.9 1938.4,1425.9 1941.5,1425.9 1944.6,1426.0 1947.7,1426.0 1950.8,1426.0 1953.9,1426.0 1957.0,1426.0 1960.1,1426.0 1963.2,1426.0 1966.3,1426.0 1969.4,1426.0 1972.5,1426.0 1975.6,1426.1 1978.7,1426.1 1981.8,1426.1 1984.9,1426.1 1988.0,1426.1 1991.1,1426.1 1994.2,1426.1 1997.3,1426.1 2000.4,1426.1 2003.5,1426.1 2006.6,1426.1 2009.7,1426.2 2012.8,1426.2 2015.8,1426.2 2018.9,1426.2 2022.0,1426.2 2025.1,1426.2 2028.2,1426.2 2031.3,1426.2 2034.4,1426.2 2037.5,1426.2 2040.6,1426.2 2043.7,1426.2 2046.8,1426.2 2049.9,1426.3 2053.0,1426.3 2056.1,1426.3 2059.2,1426.3 2062.3,1426.3 2065.4,1426.3 2068.5,1426.3 2071.6,1426.3 2074.7,1426.3 2077.8,1426.3 2080.9,1426.3 2084.0,1426.3 2087.1,1426.3 2090.2,1426.3 2093.3,1426.4 2096.4,1426.4 2099.5,1426.4 2102.6,1426.4 2105.7,1426.4 2108.8,1426.4 2111.8,1426.4 2114.9,1426.4 2118.0,1426.4 2121.1,1426.4 2124.2,1426.4 2127.3,1426.4 2130.4,1426.4 2133.5,1426.4 2136.6,1426.4 2139.7,1426.4 2142.8,1426.4 2145.9,1426.5 2149.0,1426.5 2152.1,1426.5 2155.2,1426.5 2158.3,1426.5 2161.4,1426.5 2164.5,1426.5 2167.6,1426.5 2170.7,1426.5 2173.8,1426.5 2176.9,1426.5 2180.0,1426.5 2183.1,1426.5 2186.2,1426.5 2189.3,1426.5 2192.4,1426.5 2195.5,1426.5 2198.6,1426.5 2201.7,1426.5 2204.7,1426.5 2207.8,1426.6 2210.9,1426.6 2214.0,1426.6 2217.1,1426.6 2220.2,1426.6 2223.3,1426.6 2226.4,1426.6 2229.5,1426.6 2232.6,1426.6 2235.7,1426.6 2238.8,1426.6 2241.9,1426.6 2245.0,1426.6 2248.1,1426.6 2251.2,1426.6 2254.3,1426.6 2257.4,1426.6 2260.5,1426.6 2263.6,1426.6 2266.7,1426.6 2269.8,1426.6 2272.9,1426.6 2276.0,1426.6 2279.1,1426.6 2282.2,1426.6 2285.3,1426.7 2288.4,1426.7 2291.5,1426.7 2294.6,1426.7 2297.6,1426.7 2300.7,1426.7 2303.8,1426.7 2306.9,1426.7 2310.0,1426.7 2313.1,1426.7 2316.2,1426.7 2319.3,1426.7 2322.4,1426.7 2325.5,1426.7 2328.6,1426.7 2331.7,1426.7 2334.8,1426.7 2337.9,1426.7 2341.0,1426.7"/>
<polyline class="cy" points="1412.0,1421.2 1415.1,1421.2 1418.2,1421.3 1421.3,1421.3 1424.4,1421.4 1427.5,1421.5 1430.6,1421.5 1433.7,1421.6 1436.8,1421.6 1439.9,1421.7 1443.0,1421.7 1446.1,1421.8 1449.2,1421.8 1452.3,1421.9 1455.4,1421.9 1458.5,1422.0 1461.5,1422.0 1464.6,1422.1 1467.7,1422.1 1470.8,1422.2 1473.9,1422.2 1477.0,1422.3 1480.1,1422.3 1483.2,1422.4 1486.3,1422.4 1489.4,1422.5 1492.5,1422.5 1495.6,1422.5 1498.7,1422.6 1501.8,1422.6 1504.9,1422.7 1508.0,1422.7 1511.1,1422.8 1514.2,1422.8 1517.3,1422.8 1520.4,1422.9 1523.5,1422.9 1526.6,1423.0 1529.7,1423.0 1532.8,1423.1 1535.9,1423.1 1539.0,1423.1 1542.1,1423.2 1545.2,1423.2 1548.3,1423.2 1551.3,1423.3 1554.4,1423.3 1557.5,1423.4 1560.6,1423.4 1563.7,1423.4 1566.8,1423.5 1569.9,1423.5 1573.0,1423.5 1576.1,1423.6 1579.2,1423.6 1582.3,1423.6 1585.4,1423.7 1588.5,1423.7 1591.6,1423.7 1594.7,1423.8 1597.8,1423.8 1600.9,1423.8 1604.0,1423.9 1607.1,1423.9 1610.2,1423.9 1613.3,1424.0 1616.4,1424.0 1619.5,1424.0 1622.6,1424.0 1625.7,1424.1 1628.8,1424.1 1631.9,1424.1 1635.0,1424.2 1638.1,1424.2 1641.2,1424.2 1644.2,1424.2 1647.3,1424.3 1650.4,1424.3 1653.5,1424.3 1656.6,1424.4 1659.7,1424.4 1662.8,1424.4 1665.9,1424.4 1669.0,1424.5 1672.1,1424.5 1675.2,1424.5 1678.3,1424.5 1681.4,1424.6 1684.5,1424.6 1687.6,1424.6 1690.7,1424.6 1693.8,1424.7 1696.9,1424.7 1700.0,1424.7 1703.1,1424.7 1706.2,1424.7 1709.3,1424.8 1712.4,1424.8 1715.5,1424.8 1718.6,1424.8 1721.7,1424.9 1724.8,1424.9 1727.9,1424.9 1731.0,1424.9 1734.1,1424.9 1737.2,1425.0 1740.2,1425.0 1743.3,1425.0 1746.4,1425.0 1749.5,1425.0 1752.6,1425.1 1755.7,1425.1 1758.8,1425.1 1761.9,1425.1 1765.0,1425.1 1768.1,1425.2 1771.2,1425.2 1774.3,1425.2 1777.4,1425.2 1780.5,1425.2 1783.6,1425.2 1786.7,1425.3 1789.8,1425.3 1792.9,1425.3 1796.0,1425.3 1799.1,1425.3 1802.2,1425.3 1805.3,1425.4 1808.4,1425.4 1811.5,1425.4 1814.6,1425.4 1817.7,1425.4 1820.8,1425.4 1823.9,1425.5 1827.0,1425.5 1830.0,1425.5 1833.1,1425.5 1836.2,1425.5 1839.3,1425.5 1842.4,1425.5 1845.5,1425.6 1848.6,1425.6 1851.7,1425.6 1854.8,1425.6 1857.9,1425.6 1861.0,1425.6 1864.1,1425.6 1867.2,1425.7 1870.3,1425.7 1873.4,1425.7 1876.5,1425.7 1879.6,1425.7 1882.7,1425.7 1885.8,1425.7 1888.9,1425.7 1892.0,1425.8 1895.1,1425.8 1898.2,1425.8 1901.3,1425.8 1904.4,1425.8 1907.5,1425.8 1910.6,1425.8 1913.7,1425.8 1916.8,1425.9 1919.9,1425.9 1923.0,1425.9 1926.0,1425.9 1929.1,1425.9 1932.2,1425.9 1935.3,1425.9 1938.4,1425.9 1941.5,1425.9 1944.6,1426.0 1947.7,1426.0 1950.8,1426.0 1953.9,1426.0 1957.0,1426.0 1960.1,1426.0 1963.2,1426.0 1966.3,1426.0 1969.4,1426.0 1972.5,1426.0 1975.6,1426.1 1978.7,1426.1 1981.8,1426.1 1984.9,1426.1 1988.0,1426.1 1991.1,1426.1 1994.2,1426.1 1997.3,1426.1 2000.4,1426.1 2003.5,1426.1 2006.6,1426.1 2009.7,1426.2 2012.8,1426.2 2015.8,1426.2 2018.9,1426.2 2022.0,1426.2 2025.1,1426.2 2028.2,1426.2 2031.3,1426.2 2034.4,1426.2 2037.5,1426.2 2040.6,1426.2 2043.7,1426.2 2046.8,1426.2 2049.9,1426.3 2053.0,1426.3 2056.1,1426.3 2059.2,1426.3 2062.3,1426.3 2065.4,1426.3 2068.5,1426.3 2071.6,1426.3 2074.7,1426.3 2077.8,1426.3 2080.9,1426.3 2084.0,1426.3 2087.1,1426.3 2090.2,1426.3 2093.3,1426.4 2096.4,1426.4 2099.5,1426.4 2102.6,1426.4 2105.7,1426.4 2108.8,1426.4 2111.8,1426.4 2114.9,1426.4 2118.0,1426.4 2121.1,1426.4 2124.2,1426.4 2127.3,1426.4 2130.4,1426.4 2133.5,1426.4 2136.6,1426.4 2139.7,1426.4 2142.8,1426.4 2145.9,1426.5 2149.0,1426.5 2152.1,1426.5 2155.2,1426.5 2158.3,1426.5 2161.4,1426.5 2164.5,1426.5 2167.6,1426.5 2170.7,1426.5 2173.8,1426.5 2176.9,1426.5 2180.0,1426.5 2183.1,1426.5 2186.2,1426.5 2189.3,1426.5 2192.4,1426.5 2195.5,1426.5 2198.6,1426.5 2201.7,1426.5 2204.7,1426.5 2207.8,1426.6 2210.9,1426.6 2214.0,1426.6 2217.1,1426.6 2220.2,1426.6 2223.3,1426.6 2226.4,1426.6 2229.5,1426.6 2232.6,1426.6 2235.7,1426.6 2238.8,1426.6 2241.9,1426.6 2245.0,1426.6 2248.1,1426.6 2251.2,1426.6 2254.3,1426.6 2257.4,1426.6 2260.5,1426.6 2263.6,1426.6 2266.7,1426.6 2269.8,1426.6 2272.9,1426.6 2276.0,1426.6 2279.1,1426.6 2282.2,1426.6 2285.3,1426.7 2288.4,1426.7 2291.5,1426.7 2294.6,1426.7 2297.6,1426.7 2300.7,1426.7 2303.8,1426.7 2306.9,1426.7 2310.0,1426.7 2313.1,1426.7 2316.2,1426.7 2319.3,1426.7 2322.4,1426.7 2325.5,1426.7 2328.6,1426.7 2331.7,1426.7 2334.8,1426.7 2337.9,1426.7 2341.0,1426.7"/>
<polyline class="cx" points="199.0,2417.7 202.1,2418.0 205.2,2418.3 208.3,2418.7 211.4,2419.0 214.5,2419.4 217.6,2419.8 220.7,2420.2 223.8,2420.6 226.9,2421.0 230.0,2421.5 233.1,2421.9 236.2,2422.4 239.3,2422.9 242.4,2423.4 245.4,2424.0 248.5,2424.5 251.6,2425.1 254.7,2425.7 257.8,2426.3 260.9,2426.9 264.0,2427.6 267.1,2428.3 270.2,2429.0 273.3,2429.8 276.4,2430.5 279.5,2431.3 282.6,2432.2 285.7,2433.0 288.8,2433.9 291.9,2434.9 295.0,2435.9 298.1,2436.9 301.2,2437.9 304.3,2439.0 307.4,2440.2 310.5,2441.4 313.6,2442.6 316.7,2443.9 319.8,2445.2 322.9,2446.6 326.0,2448.1 329.1,2449.6 332.2,2451.2 335.3,2452.8 338.4,2454.5 341.4,2456.3 344.5,2458.1 347.6,2460.1 350.7,2462.1 353.8,2464.1 356.9,2466.3 360.0,2468.5 363.1,2470.9 366.2,2473.3 369.3,2475.8 372.4,2478.5 375.5,2481.2 378.6,2484.0 381.7,2486.9 384.8,2490.0 387.9,2493.1 391.0,2496.4 394.1,2499.7 397.2,2503.2 400.3,2506.8 403.4,2510.5 406.5,2514.4 409.6,2518.3 412.7,2522.4 415.8,2526.5 418.9,2530.8 422.0,2535.2 425.1,2539.6 428.2,2544.2 431.2,2548.9 434.3,2553.6 437.4,2558.4 440.5,2563.3 443.6,2568.2 446.7,2573.1 449.8,2578.1 452.9,2583.1 456.0,2588.1 459.1,2593.1 462.2,2598.0 465.3,2602.9 468.4,2607.8 471.5,2612.5 474.6,2617.2 477.7,2621.8 480.8,2626.2 483.9,2630.6 487.0,2634.8 490.1,2638.8 493.2,2642.7 496.3,2646.4 499.4,2650.0 502.5,2653.4 505.6,2656.6 508.7,2659.7 511.8,2662.6 514.9,2665.3 518.0,2667.8 521.1,2670.2 524.1,2672.4 527.2,2674.5 530.3,2676.4 533.4,2678.2 536.5,2679.8 539.6,2681.4 542.7,2682.8 545.8,2684.1 548.9,2685.3 552.0,2686.4 555.1,2687.4 558.2,2688.3 561.3,2689.1 564.4,2689.9 567.5,2690.6 570.6,2691.3 573.7,2691.9 576.8,2692.4 579.9,2692.9 583.0,2693.3 586.1,2693.7 589.2,2694.1 592.3,2694.4 595.4,2694.7 598.5,2695.0 601.6,2695.3 604.7,2695.5 607.8,2695.7 610.9,2695.9 614.0,2696.0 617.0,2696.2 620.1,2696.3 623.2,2696.5 626.3,2696.6 629.4,2696.7 632.5,2696.8 635.6,2696.9 638.7,2696.9 641.8,2697.0 644.9,2697.1 648.0,2697.1 651.1,2697.2 654.2,2697.2 657.3,2697.3 660.4,2697.3 663.5,2697.3 666.6,2697.4 669.7,2697.4 672.8,2697.4 675.9,2697.4 679.0,2697.5 682.1,2697.5 685.2,2697.5 688.3,2697.5 691.4,2697.5 694.5,2697.5 697.6,2697.6 700.7,2697.6 703.8,2697.6 706.9,2697.6 710.0,2697.6 713.0,2697.6 716.1,2697.6 719.2,2697.6 722.3,2697.6 725.4,2697.6 728.5,2697.6 731.6,2697.6 734.7,2697.6 737.8,2697.6 740.9,2697.6 744.0,2697.6 747.1,2697.6 750.2,2697.6 753.3,2697.6 756.4,2697.7 759.5,2697.7 762.6,2697.7 765.7,2697.7 768.8,2697.7 771.9,2697.7 775.0,2697.7 778.1,2697.7 781.2,2697.7 784.3,2697.7 787.4,2697.7 790.5,2697.7 793.6,2697.7 796.7,2697.7 799.8,2697.7 802.9,2697.7 805.9,2697.7 809.0,2697.7 812.1,2697.7 815.2,2697.7 818.3,2697.7 821.4,2697.7 824.5,2697.7 827.6,2697.7 830.7,2697.7 833.8,2697.7 836.9,2697.7 840.0,2697.7 843.1,2697.7 846.2,2697.7 849.3,2697.7 852.4,2697.7 855.5,2697.7 858.6,2697.7 861.7,2697.7 864.8,2697.7 867.9,2697.7 871.0,2697.7 874.1,2697.7 877.2,2697.7 880.3,2697.7 883.4,2697.7 886.5,2697.7 889.6,2697.7 892.7,2697.7 895.8,2697.7 898.8,2697.7 901.9,2697.7 905.0,2697.7 908.1,2697.7 911.2,2697.7 914.3,2697.7 917.4,2697.7 920.5,2697.7 923.6,2697.7 926.7,2697.7 929.8,2697.7 932.9,2697.7 936.0,2697.7 939.1,2697.7 942.2,2697.7 945.3,2697.7 948.4,2697.7 951.5,2697.7 954.6,2697.7 957.7,2697.7 960.8,2697.7 963.9,2697.7 967.0,2697.7 970.1,2697.7 973.2,2697.7 976.3,2697.7 979.4,2697.7 982.5,2697.7 985.6,2697.7 988.6,2697.7 991.7,2697.7 994.8,2697.7 997.9,2697.7 1001.0,2697.7 1004.1,2697.7 1007.2,2697.7 1010.3,2697.7 1013.4,2697.7 1016.5,2697.7 1019.6,2697.7 1022.7,2697.7 1025.8,2697.7 1028.9,2697.7 1032.0,2697.7 1035.1,2697.7 1038.2,2697.7 1041.3,2697.7 1044.4,2697.7 1047.5,2697.7 1050.6,2697.7 1053.7,2697.7 1056.8,2697.7 1059.9,2697.7 1063.0,2697.7 1066.1,2697.7 1069.2,2697.7 1072.3,2697.7 1075.4,2697.7 1078.5,2697.7 1081.5,2697.7 1084.6,2697.7 1087.7,2697.7 1090.8,2697.7 1093.9,2697.7 1097.0,2697.7 1100.1,2697.7 1103.2,2697.7 1106.3,2697.7 1109.4,2697.7 1112.5,2697.7 1115.6,2697.7 1118.7,2697.7 1121.8,2697.7 1124.9,2697.7 1128.0,2697.7"/>
<polyline class="cy" points="199.0,2411.8 202.1,2411.9 205.2,2411.9 208.3,2411.9 211.4,2411.9 214.5,2411.9 217.6,2411.9 220.7,2411.9 223.8,2411.9 226.9,2411.9 230.0,2411.9 233.1,2411.8 236.2,2411.8 239.3,2411.8 242.4,2411.7 245.4,2411.6 248.5,2411.6 251.6,2411.5 254.7,2411.4 257.8,2411.3 260.9,2411.1 264.0,2411.0 267.1,2410.8 270.2,2410.7 273.3,2410.5 276.4,2410.3 279.5,2410.0 282.6,2409.8 285.7,2409.5 288.8,2409.2 291.9,2408.9 295.0,2408.5 298.1,2408.2 301.2,2407.8 304.3,2407.3 307.4,2406.9 310.5,2406.4 313.6,2405.8 316.7,2405.3 319.8,2404.6 322.9,2404.0 326.0,2403.3 329.1,2402.5 332.2,2401.7 335.3,2400.9 338.4,2400.0 341.4,2399.0 344.5,2398.0 347.6,2396.9 350.7,2395.7 353.8,2394.5 356.9,2393.2 360.0,2391.8 363.1,2390.3 366.2,2388.7 369.3,2387.1 372.4,2385.3 375.5,2383.5 378.6,2381.5 381.7,2379.4 384.8,2377.3 387.9,2375.0 391.0,2372.5 394.1,2370.0 397.2,2367.3 400.3,2364.4 403.4,2361.5 406.5,2358.3 409.6,2355.0 412.7,2351.6 415.8,2348.0 418.9,2344.2 422.0,2340.3 425.1,2336.2 428.2,2331.9 431.2,2327.4 434.3,2322.8 437.4,2318.0 440.5,2313.1 443.6,2307.9 446.7,2302.7 449.8,2297.2 452.9,2291.7 456.0,2286.0 459.1,2280.2 462.2,2274.2 465.3,2268.2 468.4,2262.2 471.5,2256.0 474.6,2249.9 477.7,2243.7 480.8,2237.6 483.9,2231.5 487.0,2225.4 490.1,2219.4 493.2,2213.6 496.3,2207.8 499.4,2202.2 502.5,2196.8 505.6,2191.5 508.7,2186.4 511.8,2181.6 514.9,2176.9 518.0,2172.4 521.1,2168.2 524.1,2164.2 527.2,2160.4 530.3,2156.9 533.4,2153.5 536.5,2150.4 539.6,2147.5 542.7,2144.7 545.8,2142.2 548.9,2139.9 552.0,2137.7 555.1,2135.7 558.2,2133.8 561.3,2132.1 564.4,2130.5 567.5,2129.1 570.6,2127.8 573.7,2126.6 576.8,2125.5 579.9,2124.5 583.0,2123.5 586.1,2122.7 589.2,2121.9 592.3,2121.2 595.4,2120.6 598.5,2120.0 601.6,2119.5 604.7,2119.0 607.8,2118.6 610.9,2118.2 614.0,2117.8 617.0,2117.5 620.1,2117.2 623.2,2116.9 626.3,2116.7 629.4,2116.5 632.5,2116.3 635.6,2116.1 638.7,2115.9 641.8,2115.8 644.9,2115.6 648.0,2115.5 651.1,2115.4 654.2,2115.3 657.3,2115.2 660.4,2115.1 663.5,2115.0 666.6,2115.0 669.7,2114.9 672.8,2114.9 675.9,2114.8 679.0,2114.8 682.1,2114.7 685.2,2114.7 688.3,2114.7 691.4,2114.6 694.5,2114.6 697.6,2114.6 700.7,2114.5 703.8,2114.5 706.9,2114.5 710.0,2114.5 713.0,2114.5 716.1,2114.5 719.2,2114.5 722.3,2114.4 725.4,2114.4 728.5,2114.4 731.6,2114.4 734.7,2114.4 737.8,2114.4 740.9,2114.4 744.0,2114.4 747.1,2114.4 750.2,2114.4 753.3,2114.4 756.4,2114.4 759.5,2114.4 762.6,2114.4 765.7,2114.4 768.8,2114.4 771.9,2114.4 775.0,2114.4 778.1,2114.4 781.2,2114.3 784.3,2114.3 787.4,2114.3 790.5,2114.3 793.6,2114.3 796.7,2114.3 799.8,2114.3 802.9,2114.3 805.9,2114.3 809.0,2114.3 812.1,2114.3 815.2,2114.3 818.3,2114.3 821.4,2114.3 824.5,2114.3 827.6,2114.3 830.7,2114.3 833.8,2114.3 836.9,2114.3 840.0,2114.3 843.1,2114.3 846.2,2114.3 849.3,2114.3 852.4,2114.3 855.5,2114.3 858.6,2114.3 861.7,2114.3 864.8,2114.3 867.9,2114.3 871.0,2114.3 874.1,2114.3 877.2,2114.3 880.3,2114.3 883.4,2114.3 886.5,2114.3 889.6,2114.3 892.7,2114.3 895.8,2114.3 898.8,2114.3 901.9,2114.3 905.0,2114.3 908.1,2114.3 911.2,2114.3 914.3,2114.3 917.4,2114.3 920.5,2114.3 923.6,2114.3 926.7,2114.3 929.8,2114.3 932.9,2114.3 936.0,2114.3 939.1,2114.3 942.2,2114.3 945.3,2114.3 948.4,2114.3 951.5,2114.3 954.6,2114.3 957.7,2114.3 960.8,2114.3 963.9,2114.3 967.0,2114.3 970.1,2114.3 973.2,2114.3 976.3,2114.3 979.4,2114.3 982.5,2114.3 985.6,2114.3 988.6,2114.3 991.7,2114.3 994.8,2114.3 997.9,2114.3 1001.0,2114.3 1004.1,2114.3 1007.2,2114.3 1010.3,2114.3 1013.4,2114.3 1016.5,2114.3 1019.6,2114.3 1022.7,2114.3 1025.8,2114.3 1028.9,2114.3 1032.0,2114.3 1035.1,2114.3 1038.2,2114.3 1041.3,2114.3 1044.4,2114.3 1047.5,2114.3 1050.6,2114.3 1053.7,2114.3 1056.8,2114.3 1059.9,2114.3 1063.0,2114.3 1066.1,2114.3 1069.2,2114.3 1072.3,2114.3 1075.4,2114.3 1078.5,2114.3 1081.5,2114.3 1084.6,2114.3 1087.7,2114.3 1090.8,2114.3 1093.9,2114.3 1097.0,2114.3 1100.1,2114.3 1103.2,2114.3 1106.3,2114.3 1109.4,2114.3 1112.5,2114.3 1115.6,2114.3 1118.7,2114.3 1121.8,2114.3 1124.9,2114.3 1128.0,2114.3"/>
<polyline class="cx" points="1412.0,2417.7 1415.1,2417.8 1418.2,2417.9 1421.3,2418.0 1424.4,2418.1 1427.5,2418.2 1430.6,2418.3 1433.7,2418.4 1436.8,2418.5 1439.9,2418.7 1443.0,2418.9 1446.1,2419.0 1449.2,2419.2 1452.3,2419.4 1455.4,2419.6 1458.5,2419.9 1461.5,2420.1 1464.6,2420.4 1467.7,2420.7 1470.8,2421.0 1473.9,2421.3 1477.0,2421.6 1480.1,2422.0 1483.2,2422.4 1486.3,2422.8 1489.4,2423.3 1492.5,2423.7 1495.6,2424.2 1498.7,2424.7 1501.8,2425.3 1504.9,2425.9 1508.0,2426.5 1511.1,2427.2 1514.2,2427.9 1517.3,2428.6 1520.4,2429.4 1523.5,2430.2 1526.6,2431.0 1529.7,2431.9 1532.8,2432.9 1535.9,2433.9 1539.0,2435.0 1542.1,2436.1 1545.2,2437.3 1548.3,2438.5 1551.3,2439.8 1554.4,2441.2 1557.5,2442.6 1560.6,2444.2 1563.7,2445.8 1566.8,2447.4 1569.9,2449.2 1573.0,2451.1 1576.1,2453.0 1579.2,2455.1 1582.3,2457.2 1585.4,2459.4 1588.5,2461.8 1591.6,2464.3 1594.7,2466.9 1597.8,2469.6 1600.9,2472.4 1604.0,2475.3 1607.1,2478.4 1610.2,2481.6 1613.3,2485.0 1616.4,2488.5 1619.5,2492.1 1622.6,2495.9 1625.7,2499.8 1628.8,2503.9 1631.9,2508.1 1635.0,2512.4 1638.1,2516.9 1641.2,2521.5 1644.2,2526.3 1647.3,2531.1 1650.4,2536.1 1653.5,2541.2 1656.6,2546.4 1659.7,2551.7 1662.8,2557.1 1665.9,2562.5 1669.0,2568.0 1672.1,2573.5 1675.2,2579.0 1678.3,2584.5 1681.4,2590.0 1684.5,2595.4 1687.6,2600.7 1690.7,2606.0 1693.8,2611.2 1696.9,2616.3 1700.0,2621.2 1703.1,2626.0 1706.2,2630.6 1709.3,2635.0 1712.4,2639.3 1715.5,2643.4 1718.6,2647.3 1721.7,2651.0 1724.8,2654.4 1727.9,2657.7 1731.0,2660.8 1734.1,2663.7 1737.2,2666.5 1740.2,2669.0 1743.3,2671.4 1746.4,2673.6 1749.5,2675.6 1752.6,2677.5 1755.7,2679.2 1758.8,2680.8 1761.9,2682.3 1765.0,2683.7 1768.1,2684.9 1771.2,2686.0 1774.3,2687.1 1777.4,2688.0 1780.5,2688.9 1783.6,2689.7 1786.7,2690.4 1789.8,2691.1 1792.9,2691.7 1796.0,2692.3 1799.1,2692.8 1802.2,2693.2 1805.3,2693.6 1808.4,2694.0 1811.5,2694.4 1814.6,2694.7 1817.7,2694.9 1820.8,2695.2 1823.9,2695.4 1827.0,2695.6 1830.0,2695.8 1833.1,2696.0 1836.2,2696.2 1839.3,2696.3 1842.4,2696.4 1845.5,2696.6 1848.6,2696.7 1851.7,2696.8 1854.8,2696.8 1857.9,2696.9 1861.0,2697.0 1864.1,2697.1 1867.2,2697.1 1870.3,2697.2 1873.4,2697.2 1876.5,2697.3 1879.6,2697.3 1882.7,2697.3 1885.8,2697.4 1888.9,2697.4 1892.0,2697.4 1895.1,2697.4 1898.2,2697.5 1901.3,2697.5 1904.4,2697.5 1907.5,2697.5 1910.6,2697.5 1913.7,2697.5 1916.8,2697.6 1919.9,2697.6 1923.0,2697.6 1926.0,2697.6 1929.1,2697.6 1932.2,2697.6 1935.3,2697.6 1938.4,2697.6 1941.5,2697.6 1944.6,2697.6 1947.7,2697.6 1950.8,2697.6 1953.9,2697.6 1957.0,2697.6 1960.1,2697.6 1963.2,2697.6 1966.3,2697.6 1969.4,2697.6 1972.5,2697.6 1975.6,2697.6 1978.7,2697.7 1981.8,2697.7 1984.9,2697.7 1988.0,2697.7 1991.1,2697.7 1994.2,2697.7 1997.3,2697.7 2000.4,2697.7 2003.5,2697.7 2006.6,2697.7 2009.7,2697.7 2012.8,2697.7 2015.8,2697.7 2018.9,2697.7 2022.0,2697.7 2025.1,2697.7 2028.2,2697.7 2031.3,2697.7 2034.4,2697.7 2037.5,2697.7 2040.6,2697.7 2043.7,2697.7 2046.8,2697.7 2049.9,2697.7 2053.0,2697.7 2056.1,2697.7 2059.2,2697.7 2062.3,2697.7 2065.4,2697.7 2068.5,2697.7 2071.6,2697.7 2074.7,2697.7 2077.8,2697.7 2080.9,2697.7 2084.0,2697.7 2087.1,2697.7 2090.2,2697.7 2093.3,2697.7 2096.4,2697.7 2099.5,2697.7 2102.6,2697.7 2105.7,2697.7 2108.8,2697.7 2111.8,2697.7 2114.9,2697.7 2118.0,2697.7 2121.1,2697.7 2124.2,2697.7 2127.3,2697.7 2130.4,2697.7 2133.5,2697.7 2136.6,2697.7 2139.7,2697.7 2142.8,2697.7 2145.9,2697.7 2149.0,2697.7 2152.1,2697.7 2155.2,2697.7 2158.3,2697.7 2161.4,2697.7 2164.5,2697.7 2167.6,2697.7 2170.7,2697.7 2173.8,2697.7 2176.9,2697.7 2180.0,2697.7 2183.1,2697.7 2186.2,2697.7 2189.3,2697.7 2192.4,2697.7 2195.5,2697.7 2198.6,2697.7 2201.7,2697.7 2204.7,2697.7 2207.8,2697.7 2210.9,2697.7 2214.0,2697.7 2217.1,2697.7 2220.2,2697.7 2223.3,2697.7 2226.4,2697.7 2229.5,2697.7 2232.6,2697.7 2235.7,2697.7 2238.8,2697.7 2241.9,2697.7 2245.0,2697.7 2248.1,2697.7 2251.2,2697.7 2254.3,2697.7 2257.4,2697.7 2260.5,2697.7 2263.6,2697.7 2266.7,2697.7 2269.8,2697.7 2272.9,2697.7 2276.0,2697.7 2279.1,2697.7 2282.2,2697.7 2285.3,2697.7 2288.4,2697.7 2291.5,2697.7 2294.6,2697.7 2297.6,2697.7 2300.7,2697.7 2303.8,2697.7 2306.9,2697.7 2310.0,2697.7 2313.1,2697.7 2316.2,2697.7 2319.3,2697.7 2322.4,2697.7 2325.5,2697.7 2328.6,2697.7 2331.7,2697.7 2334.8,2697.7 2337.9,2697.7 2341.0,2697.7"/>
<polyline class="cy" points="1412.0,2411.8 1415.1,2411.5 1418.2,2411.3 1421.3,2411.0 1424.4,2410.7 1427.5,2410.5 1430.6,2410.2 1433.7,2409.9 1436.8,2409.6 1439.9,2409.3 1443.0,2409.0 1446.1,2408.6 1449.2,2408.3 1452.3,2407.9 1455.4,2407.6 1458.5,2407.2 1461.5,2406.8 1464.6,2406.4 1467.7,2405.9 1470.8,2405.5 1473.9,2405.0 1477.0,2404.5 1480.1,2404.0 1483.2,2403.5 1486.3,2402.9 1489.4,2402.4 1492.5,2401.7 1495.6,2401.1 1498.7,2400.5 1501.8,2399.8 1504.9,2399.1 1508.0,2398.3 1511.1,2397.5 1514.2,2396.7 1517.3,2395.8 1520.4,2394.9 1523.5,2394.0 1526.6,2393.0 1529.7,2392.0 1532.8,2390.9 1535.9,2389.8 1539.0,2388.6 1542.1,2387.3 1545.2,2386.0 1548.3,2384.7 1551.3,2383.2 1554.4,2381.7 1557.5,2380.2 1560.6,2378.5 1563.7,2376.8 1566.8,2375.0 1569.9,2373.1 1573.0,2371.2 1576.1,2369.1 1579.2,2366.9 1582.3,2364.7 1585.4,2362.3 1588.5,2359.8 1591.6,2357.2 1594.7,2354.5 1597.8,2351.7 1600.9,2348.7 1604.0,2345.7 1607.1,2342.5 1610.2,2339.1 1613.3,2335.6 1616.4,2332.0 1619.5,2328.2 1622.6,2324.3 1625.7,2320.2 1628.8,2316.0 1631.9,2311.7 1635.0,2307.2 1638.1,2302.5 1641.2,2297.7 1644.2,2292.8 1647.3,2287.8 1650.4,2282.6 1653.5,2277.3 1656.6,2271.9 1659.7,2266.4 1662.8,2260.9 1665.9,2255.2 1669.0,2249.6 1672.1,2243.9 1675.2,2238.2 1678.3,2232.4 1681.4,2226.8 1684.5,2221.1 1687.6,2215.5 1690.7,2210.1 1693.8,2204.7 1696.9,2199.4 1700.0,2194.3 1703.1,2189.3 1706.2,2184.5 1709.3,2179.8 1712.4,2175.4 1715.5,2171.1 1718.6,2167.1 1721.7,2163.2 1724.8,2159.6 1727.9,2156.1 1731.0,2152.9 1734.1,2149.9 1737.2,2147.0 1740.2,2144.4 1743.3,2141.9 1746.4,2139.6 1749.5,2137.5 1752.6,2135.5 1755.7,2133.7 1758.8,2132.0 1761.9,2130.4 1765.0,2129.0 1768.1,2127.7 1771.2,2126.5 1774.3,2125.4 1777.4,2124.4 1780.5,2123.5 1783.6,2122.7 1786.7,2121.9 1789.8,2121.2 1792.9,2120.6 1796.0,2120.0 1799.1,2119.5 1802.2,2119.0 1805.3,2118.6 1808.4,2118.2 1811.5,2117.8 1814.6,2117.5 1817.7,2117.2 1820.8,2116.9 1823.9,2116.7 1827.0,2116.5 1830.0,2116.3 1833.1,2116.1 1836.2,2115.9 1839.3,2115.8 1842.4,2115.6 1845.5,2115.5 1848.6,2115.4 1851.7,2115.3 1854.8,2115.2 1857.9,2115.1 1861.0,2115.0 1864.1,2115.0 1867.2,2114.9 1870.3,2114.9 1873.4,2114.8 1876.5,2114.8 1879.6,2114.7 1882.7,2114.7 1885.8,2114.7 1888.9,2114.6 1892.0,2114.6 1895.1,2114.6 1898.2,2114.5 1901.3,2114.5 1904.4,2114.5 1907.5,2114.5 1910.6,2114.5 1913.7,2114.5 1916.8,2114.5 1919.9,2114.4 1923.0,2114.4 1926.0,2114.4 1929.1,2114.4 1932.2,2114.4 1935.3,2114.4 1938.4,2114.4 1941.5,2114.4 1944.6,2114.4 1947.7,2114.4 1950.8,2114.4 1953.9,2114.4 1957.0,2114.4 1960.1,2114.4 1963.2,2114.4 1966.3,2114.4 1969.4,2114.4 1972.5,2114.4 1975.6,2114.4 1978.7,2114.3 1981.8,2114.3 1984.9,2114.3 1988.0,2114.3 1991.1,2114.3 1994.2,2114.3 1997.3,2114.3 2000.4,2114.3 2003.5,2114.3 2006.6,2114.3 2009.7,2114.3 2012.8,2114.3 2015.8,2114.3 2018.9,2114.3 2022.0,2114.3 2025.1,2114.3 2028.2,2114.3 2031.3,2114.3 2034.4,2114.3 2037.5,2114.3 2040.6,2114.3 2043.7,2114.3 2046.8,2114.3 2049.9,2114.3 2053.0,2114.3 2056.1,2114.3 2059.2,2114.3 2062.3,2114.3 2065.4,2114.3 2068.5,2114.3 2071.6,2114.3 2074.7,2114.3 2077.8,2114.3 2080.9,2114.3 2084.0,2114.3 2087.1,2114.3 2090.2,2114.3 2093.3,2114.3 2096.4,2114.3 2099.5,2114.3 2102.6,2114.3 2105.7,2114.3 2108.8,2114.3 2111.8,2114.3 2114.9,2114.3 2118.0,2114.3 2121.1,2114.3 2124.2,2114.3 2127.3,2114.3 2130.4,2114.3 2133.5,2114.3 2136.6,2114.3 2139.7,2114.3 2142.8,2114.3 2145.9,2114.3 2149.0,2114.3 2152.1,2114.3 2155.2,2114.3 2158.3,2114.3 2161.4,2114.3 2164.5,2114.3 2167.6,2114.3 2170.7,2114.3 2173.8,2114.3 2176.9,2114.3 2180.0,2114.3 2183.1,2114.3 2186.2,2114.3 2189.3,2114.3 2192.4,2114.3 2195.5,2114.3 2198.6,2114.3 2201.7,2114.3 2204.7,2114.3 2207.8,2114.3 2210.9,2114.3 2214.0,2114.3 2217.1,2114.3 2220.2,2114.3 2223.3,2114.3 2226.4,2114.3 2229.5,2114.3 2232.6,2114.3 2235.7,2114.3 2238.8,2114.3 2241.9,2114.3 2245.0,2114.3 2248.1,2114.3 2251.2,2114.3 2254.3,2114.3 2257.4,2114.3 2260.5,2114.3 2263.6,2114.3 2266.7,2114.3 2269.8,2114.3 2272.9,2114.3 2276.0,2114.3 2279.1,2114.3 2282.2,2114.3 2285.3,2114.3 2288.4,2114.3 2291.5,2114.3 2294.6,2114.3 2297.6,2114.3 2300.7,2114.3 2303.8,2114.3 2306.9,2114.3 2310.0,2114.3 2313.1,2114.3 2316.2,2114.3 2319.3,2114.3 2322.4,2114.3 2325.5,2114.3 2328.6,2114.3 2331.7,2114.3 2334.8,2114.3 2337.9,2114.3 2341.0,2114.3"/>
</g>
<g>
<rect class="sp" x="199" y="98" width="929" height="700"/>
<rect class="lbx" x="636" y="344" width="467.5" height="208"/>
<path d="M667.7 398.0H743.0" stroke="#0000ff" stroke-width="4.2" fill="none"/>
<path d="M667.7 494.0H743.0" stroke="#008000" stroke-width="4.2" fill="none"/>
<rect class="sp" x="1412" y="98" width="929" height="700"/>
<rect class="lbx" x="1849" y="344" width="467.5" height="208"/>
<path d="M1880.7 398.0H1956.0" stroke="#0000ff" stroke-width="4.2" fill="none"/>
<path d="M1880.7 494.0H1956.0" stroke="#008000" stroke-width="4.2" fill="none"/>
<rect class="sp" x="199" y="1077" width="929" height="700"/>
<rect class="lbx" x="636" y="1544" width="467.5" height="208"/>
<path d="M667.7 1598.0H743.0" stroke="#0000ff" stroke-width="4.2" fill="none"/>
<path d="M667.7 1694.0H743.0" stroke="#008000" stroke-width="4.2" fill="none"/>
<rect class="sp" x="1412" y="1077" width="929" height="700"/>
<rect class="lbx" x="1849" y="1102" width="467.5" height="208"/>
<path d="M1880.7 1156.0H1956.0" stroke="#0000ff" stroke-width="4.2" fill="none"/>
<path d="M1880.7 1252.0H1956.0" stroke="#008000" stroke-width="4.2" fill="none"/>
<rect class="sp" x="199" y="2056" width="929" height="700"/>
<rect class="lbx" x="636" y="2302" width="467.5" height="208"/>
<path d="M667.7 2356.0H743.0" stroke="#0000ff" stroke-width="4.2" fill="none"/>
<path d="M667.7 2452.0H743.0" stroke="#008000" stroke-width="4.2" fill="none"/>
<rect class="sp" x="1412" y="2056" width="929" height="700"/>
<rect class="lbx" x="1849" y="2302" width="467.5" height="208"/>
<path d="M1880.7 2356.0H1956.0" stroke="#0000ff" stroke-width="4.2" fill="none"/>
<path d="M1880.7 2452.0H1956.0" stroke="#008000" stroke-width="4.2" fill="none"/>
</g>
<g filter="url(#soft)">
<text class="tk" transform="translate(184.9 849.3) scale(0.860 1)">0</text>
<text class="tk" transform="translate(343.7 849.3) scale(0.860 1)">5</text>
<text class="tk" transform="translate(480.2 849.3) scale(0.860 1)">10</text>
<text class="tk" transform="translate(634.5 849.3) scale(0.860 1)">15</text>
<text class="tk" transform="translate(791.9 849.3) scale(0.860 1)">20</text>
<text class="tk" transform="translate(946.4 849.3) scale(0.860 1)">25</text>
<text class="tk" transform="translate(1104.5 849.3) scale(0.860 1)">30</text>
<text class="tk" transform="translate(179.7 812.0) scale(0.900 1)" text-anchor="end">0.6</text>
<text class="tk" transform="translate(179.7 672.0) scale(0.900 1)" text-anchor="end">0.7</text>
<text class="tk" transform="translate(179.7 532.0) scale(0.900 1)" text-anchor="end">0.8</text>
<text class="tk" transform="translate(179.7 392.0) scale(0.900 1)" text-anchor="end">0.9</text>
<text class="tk" transform="translate(179.7 252.0) scale(0.900 1)" text-anchor="end">1.0</text>
<text class="tk" transform="translate(179.7 112.0) scale(0.900 1)" text-anchor="end">1.1</text>
<text class="lb" x="660.5" y="928.6" text-anchor="middle">time</text>
<text class="lb" transform="translate(78.4 449.5) rotate(-90)" text-anchor="middle">concentration</text>
<text class="ti mi" transform="translate(255.8 74.3) scale(1.094 1)">p</text>
<text class="tt" transform="translate(300.4 80.0) scale(1.458 1)">=</text>
<text class="tt" transform="translate(353.8 74.3) scale(1.055 1)">0.20</text>
<text class="tt" transform="translate(478.0 74.3) scale(1.103 1)">,</text>
<text class="ti mi" transform="translate(519.7 74.3) scale(1.292 1)">x</text>
<text class="ts" transform="translate(554.4 90.2) scale(0.982 1)">0</text>
<text class="tt" transform="translate(600.5 80.0) scale(1.452 1)">=</text>
<text class="tt" transform="translate(658.9 74.3) scale(1.014 1)">1.00</text>
<text class="tt" transform="translate(777.8 74.3) scale(1.180 1)">,</text>
<text class="ti mi" transform="translate(823.8 74.3) scale(0.954 1)">y</text>
<text class="ts" transform="translate(849.7 90.2) scale(1.021 1)">0</text>
<text class="tt" transform="translate(896.4 80.0) scale(1.458 1)">=</text>
<text class="tt" transform="translate(953.9 74.3) scale(1.016 1)">0.99</text>
<text class="lm mi" transform="translate(798.4 416.6) scale(1.517 1)">x</text>
<text class="lg" transform="translate(838.8 415.8) scale(0.991 1)">(clique A)</text>
<text class="lm mi" transform="translate(801.6 511.8) scale(1.097 1)">y</text>
<text class="lg" transform="translate(834.4 511.4) scale(0.989 1)">(clique B)</text>
<text class="tk" transform="translate(1397.9 849.3) scale(0.860 1)">0</text>
<text class="tk" transform="translate(1556.7 849.3) scale(0.860 1)">5</text>
<text class="tk" transform="translate(1693.2 849.3) scale(0.860 1)">10</text>
<text class="tk" transform="translate(1847.5 849.3) scale(0.860 1)">15</text>
<text class="tk" transform="translate(2004.9 849.3) scale(0.860 1)">20</text>
<text class="tk" transform="translate(2159.4 849.3) scale(0.860 1)">25</text>
<text class="tk" transform="translate(2317.5 849.3) scale(0.860 1)">30</text>
<text class="tk" transform="translate(1392.7 753.7) scale(0.900 1)" text-anchor="end">0.0</text>
<text class="tk" transform="translate(1392.7 637.0) scale(0.900 1)" text-anchor="end">0.2</text>
<text class="tk" transform="translate(1392.7 520.3) scale(0.900 1)" text-anchor="end">0.4</text>
<text class="tk" transform="translate(1392.7 403.7) scale(0.900 1)" text-anchor="end">0.6</text>
<text class="tk" transform="translate(1392.7 287.0) scale(0.900 1)" text-anchor="end">0.8</text>
<text class="tk" transform="translate(1392.7 170.3) scale(0.900 1)" text-anchor="end">1.0</text>
<text class="lb" x="1873.5" y="928.6" text-anchor="middle">time</text>
<text class="lb" transform="translate(1291.4 449.5) rotate(-90)" text-anchor="middle">concentration</text>
<text class="ti mi" transform="translate(1468.8 74.3) scale(1.094 1)">p</text>
<text class="tt" transform="translate(1513.4 80.0) scale(1.458 1)">=</text>
<text class="tt" transform="translate(1566.8 74.3) scale(1.055 1)">0.40</text>
<text class="tt" transform="translate(1691.0 74.3) scale(1.103 1)">,</text>
<text class="ti mi" transform="translate(1732.7 74.3) scale(1.292 1)">x</text>
<text class="ts" transform="translate(1767.4 90.2) scale(0.982 1)">0</text>
<text class="tt" transform="translate(1813.5 80.0) scale(1.452 1)">=</text>
<text class="tt" transform="translate(1871.9 74.3) scale(1.014 1)">1.00</text>
<text class="tt" transform="translate(1990.8 74.3) scale(1.180 1)">,</text>
<text class="ti mi" transform="translate(2036.8 74.3) scale(0.954 1)">y</text>
<text class="ts" transform="translate(2062.7 90.2) scale(1.021 1)">0</text>
<text class="tt" transform="translate(2109.4 80.0) scale(1.458 1)">=</text>
<text class="tt" transform="translate(2166.9 74.3) scale(1.016 1)">0.99</text>
<text class="lm mi" transform="translate(2011.4 416.6) scale(1.517 1)">x</text>
<text class="lg" transform="translate(2051.8 415.8) scale(0.991 1)">(clique A)</text>
<text class="lm mi" transform="translate(2014.6 511.8) scale(1.097 1)">y</text>
<text class="lg" transform="translate(2047.4 511.4) scale(0.989 1)">(clique B)</text>
<text class="tk" transform="translate(184.9 1828.3) scale(0.860 1)">0</text>
<text class="tk" transform="translate(343.7 1828.3) scale(0.860 1)">5</text>
<text class="tk" transform="translate(480.2 1828.3) scale(0.860 1)">10</text>
<text class="tk" transform="translate(634.5 1828.3) scale(0.860 1)">15</text>
<text class="tk" transform="translate(791.9 1828.3) scale(0.860 1)">20</text>
<text class="tk" transform="translate(946.4 1828.3) scale(0.860 1)">25</text>
<text class="tk" transform="translate(1104.5 1828.3) scale(0.860 1)">30</text>
<text class="tk" transform="translate(179.7 1732.7) scale(0.900 1)" text-anchor="end">0.0</text>
<text class="tk" transform="translate(179.7 1616.0) scale(0.900 1)" text-anchor="end">0.2</text>
<text class="tk" transform="translate(179.7 1499.3) scale(0.900 1)" text-anchor="end">0.4</text>
<text class="tk" transform="translate(179.7 1382.7) scale(0.900 1)" text-anchor="end">0.6</text>
<text class="tk" transform="translate(179.7 1266.0) scale(0.900 1)" text-anchor="end">0.8</text>
<text class="tk" transform="translate(179.7 1149.3) scale(0.900 1)" text-anchor="end">1.0</text>
<text class="lb" x="660.5" y="1907.6" text-anchor="middle">time</text>
<text class="lb" transform="translate(78.4 1428.5) rotate(-90)" text-anchor="middle">concentration</text>
<text class="ti mi" transform="translate(255.8 1053.3) scale(1.094 1)">p</text>
<text class="tt" transform="translate(300.4 1059.0) scale(1.458 1)">=</text>
<text class="tt" transform="translate(353.8 1053.3) scale(1.055 1)">0.20</text>
<text class="tt" transform="translate(478.0 1053.3) scale(1.103 1)">,</text>
<text class="ti mi" transform="translate(519.7 1053.3) scale(1.292 1)">x</text>
<text class="ts" transform="translate(554.4 1069.2) scale(0.982 1)">0</text>
<text class="tt" transform="translate(600.5 1059.0) scale(1.452 1)">=</text>
<text class="tt" transform="translate(658.9 1053.3) scale(1.014 1)">0.51</text>
<text class="tt" transform="translate(777.8 1053.3) scale(1.180 1)">,</text>
<text class="ti mi" transform="translate(823.8 1053.3) scale(0.954 1)">y</text>
<text class="ts" transform="translate(849.7 1069.2) scale(1.021 1)">0</text>
<text class="tt" transform="translate(896.4 1059.0) scale(1.458 1)">=</text>
<text class="tt" transform="translate(953.9 1053.3) scale(1.016 1)">0.51</text>
<text class="lm mi" transform="translate(798.4 1616.6) scale(1.517 1)">x</text>
<text class="lg" transform="translate(838.8 1615.8) scale(0.991 1)">(clique A)</text>
<text class="lm mi" transform="translate(801.6 1711.8) scale(1.097 1)">y</text>
<text class="lg" transform="translate(834.4 1711.4) scale(0.989 1)">(clique B)</text>
<text class="tk" transform="translate(1397.9 1828.3) scale(0.860 1)">0</text>
<text class="tk" transform="translate(1556.7 1828.3) scale(0.860 1)">5</text>
<text class="tk" transform="translate(1693.2 1828.3) scale(0.860 1)">10</text>
<text class="tk" transform="translate(1847.5 1828.3) scale(0.860 1)">15</text>
<text class="tk" transform="translate(2004.9 1828.3) scale(0.860 1)">20</text>
<text class="tk" transform="translate(2159.4 1828.3) scale(0.860 1)">25</text>
<text class="tk" transform="translate(2317.5 1828.3) scale(0.860 1)">30</text>
<text class="tk" transform="translate(1392.7 1732.7) scale(0.900 1)" text-anchor="end">0.0</text>
<text class="tk" transform="translate(1392.7 1616.0) scale(0.900 1)" text-anchor="end">0.2</text>
<text class="tk" transform="translate(1392.7 1499.3) scale(0.900 1)" text-anchor="end">0.4</text>
<text class="tk" transform="translate(1392.7 1382.7) scale(0.900 1)" text-anchor="end">0.6</text>
<text class="tk" transform="translate(1392.7 1266.0) scale(0.900 1)" text-anchor="end">0.8</text>
<text class="tk" transform="translate(1392.7 1149.3) scale(0.900 1)" text-anchor="end">1.0</text>
<text class="lb" x="1873.5" y="1907.6" text-anchor="middle">time</text>
<text class="lb" transform="translate(1291.4 1428.5) rotate(-90)" text-anchor="middle">concentration</text>
<text class="ti mi" transform="translate(1468.8 1053.3) scale(1.094 1)">p</text>
<text class="tt" transform="translate(1513.4 1059.0) scale(1.458 1)">=</text>
<text class="tt" transform="translate(1566.8 1053.3) scale(1.055 1)">0.40</text>
<text class="tt" transform="translate(1691.0 1053.3) scale(1.103 1)">,</text>
<text class="ti mi" transform="translate(1732.7 1053.3) scale(1.292 1)">x</text>
<text class="ts" transform="translate(1767.4 1069.2) scale(0.982 1)">0</text>
<text class="tt" transform="translate(1813.5 1059.0) scale(1.452 1)">=</text>
<text class="tt" transform="translate(1871.9 1053.3) scale(1.014 1)">0.51</text>
<text class="tt" transform="translate(1990.8 1053.3) scale(1.180 1)">,</text>
<text class="ti mi" transform="translate(2036.8 1053.3) scale(0.954 1)">y</text>
<text class="ts" transform="translate(2062.7 1069.2) scale(1.021 1)">0</text>
<text class="tt" transform="translate(2109.4 1059.0) scale(1.458 1)">=</text>
<text class="tt" transform="translate(2166.9 1053.3) scale(1.016 1)">0.51</text>
<text class="lm mi" transform="translate(2011.4 1174.6) scale(1.517 1)">x</text>
<text class="lg" transform="translate(2051.8 1173.8) scale(0.991 1)">(clique A)</text>
<text class="lm mi" transform="translate(2014.6 1269.8) scale(1.097 1)">y</text>
<text class="lg" transform="translate(2047.4 1269.4) scale(0.989 1)">(clique B)</text>
<text class="tk" transform="translate(184.9 2807.3) scale(0.860 1)">0</text>
<text class="tk" transform="translate(343.7 2807.3) scale(0.860 1)">5</text>
<text class="tk" transform="translate(480.2 2807.3) scale(0.860 1)">10</text>
<text class="tk" transform="translate(634.5 2807.3) scale(0.860 1)">15</text>
<text class="tk" transform="translate(791.9 2807.3) scale(0.860 1)">20</text>
<text class="tk" transform="translate(946.4 2807.3) scale(0.860 1)">25</text>
<text class="tk" transform="translate(1104.5 2807.3) scale(0.860 1)">30</text>
<text class="tk" transform="translate(179.7 2711.7) scale(0.900 1)" text-anchor="end">0.0</text>
<text class="tk" transform="translate(179.7 2595.0) scale(0.900 1)" text-anchor="end">0.2</text>
<text class="tk" transform="translate(179.7 2478.3) scale(0.900 1)" text-anchor="end">0.4</text>
<text class="tk" transform="translate(179.7 2361.7) scale(0.900 1)" text-anchor="end">0.6</text>
<text class="tk" transform="translate(179.7 2245.0) scale(0.900 1)" text-anchor="end">0.8</text>
<text class="tk" transform="translate(179.7 2128.3) scale(0.900 1)" text-anchor="end">1.0</text>
<text class="lb" x="660.5" y="2886.6" text-anchor="middle">time</text>
<text class="lb" transform="translate(78.4 2407.5) rotate(-90)" text-anchor="middle">concentration</text>
<text class="ti mi" transform="translate(255.8 2032.3) scale(1.094 1)">p</text>
<text class="tt" transform="translate(300.4 2038.0) scale(1.458 1)">=</text>
<text class="tt" transform="translate(353.8 2032.3) scale(1.055 1)">0.20</text>
<text class="tt" transform="translate(478.0 2032.3) scale(1.103 1)">,</text>
<text class="ti mi" transform="translate(519.7 2032.3) scale(1.292 1)">x</text>
<text class="ts" transform="translate(554.4 2048.2) scale(0.982 1)">0</text>
<text class="tt" transform="translate(600.5 2038.0) scale(1.452 1)">=</text>
<text class="tt" transform="translate(658.9 2032.3) scale(1.014 1)">0.48</text>
<text class="tt" transform="translate(777.8 2032.3) scale(1.180 1)">,</text>
<text class="ti mi" transform="translate(823.8 2032.3) scale(0.954 1)">y</text>
<text class="ts" transform="translate(849.7 2048.2) scale(1.021 1)">0</text>
<text class="tt" transform="translate(896.4 2038.0) scale(1.458 1)">=</text>
<text class="tt" transform="translate(953.9 2032.3) scale(1.016 1)">0.49</text>
<text class="lm mi" transform="translate(798.4 2374.6) scale(1.517 1)">x</text>
<text class="lg" transform="translate(838.8 2373.8) scale(0.991 1)">(clique A)</text>
<text class="lm mi" transform="translate(801.6 2469.8) scale(1.097 1)">y</text>
<text class="lg" transform="translate(834.4 2469.4) scale(0.989 1)">(clique B)</text>
<text class="tk" transform="translate(1397.9 2807.3) scale(0.860 1)">0</text>
<text class="tk" transform="translate(1556.7 2807.3) scale(0.860 1)">5</text>
<text class="tk" transform="translate(1693.2 2807.3) scale(0.860 1)">10</text>
<text class="tk" transform="translate(1847.5 2807.3) scale(0.860 1)">15</text>
<text class="tk" transform="translate(2004.9 2807.3) scale(0.860 1)">20</text>
<text class="tk" transform="translate(2159.4 2807.3) scale(0.860 1)">25</text>
<text class="tk" transform="translate(2317.5 2807.3) scale(0.860 1)">30</text>
<text class="tk" transform="translate(1392.7 2711.7) scale(0.900 1)" text-anchor="end">0.0</text>
<text class="tk" transform="translate(1392.7 2595.0) scale(0.900 1)" text-anchor="end">0.2</text>
<text class="tk" transform="translate(1392.7 2478.3) scale(0.900 1)" text-anchor="end">0.4</text>
<text class="tk" transform="translate(1392.7 2361.7) scale(0.900 1)" text-anchor="end">0.6</text>
<text class="tk" transform="translate(1392.7 2245.0) scale(0.900 1)" text-anchor="end">0.8</text>
<text class="tk" transform="translate(1392.7 2128.3) scale(0.900 1)" text-anchor="end">1.0</text>
<text class="lb" x="1873.5" y="2886.6" text-anchor="middle">time</text>
<text class="lb" transform="translate(1291.4 2407.5) rotate(-90)" text-anchor="middle">concentration</text>
<text class="ti mi" transform="translate(1468.8 2032.3) scale(1.094 1)">p</text>
<text class="tt" transform="translate(1513.4 2038.0) scale(1.458 1)">=</text>
<text class="tt" transform="translate(1566.8 2032.3) scale(1.055 1)">0.40</text>
<text class="tt" transform="translate(1691.0 2032.3) scale(1.103 1)">,</text>
<text class="ti mi" transform="translate(1732.7 2032.3) scale(1.292 1)">x</text>
<text class="ts" transform="translate(1767.4 2048.2) scale(0.982 1)">0</text>
<text class="tt" transform="translate(1813.5 2038.0) scale(1.452 1)">=</text>
<text class="tt" transform="translate(1871.9 2032.3) scale(1.014 1)">0.48</text>
<text class="tt" transform="translate(1990.8 2032.3) scale(1.180 1)">,</text>
<text class="ti mi" transform="translate(2036.8 2032.3) scale(0.954 1)">y</text>
<text class="ts" transform="translate(2062.7 2048.2) scale(1.021 1)">0</text>
<text class="tt" transform="translate(2109.4 2038.0) scale(1.458 1)">=</text>
<text class="tt" transform="translate(2166.9 2032.3) scale(1.016 1)">0.49</text>
<text class="lm mi" transform="translate(2011.4 2374.6) scale(1.517 1)">x</text>
<text class="lg" transform="translate(2051.8 2373.8) scale(0.991 1)">(clique A)</text>
<text class="lm mi" transform="translate(2014.6 2469.8) scale(1.097 1)">y</text>
<text class="lg" transform="translate(2047.4 2469.4) scale(0.989 1)">(clique B)</text>
</g>
</svg>
</body>
</html>
